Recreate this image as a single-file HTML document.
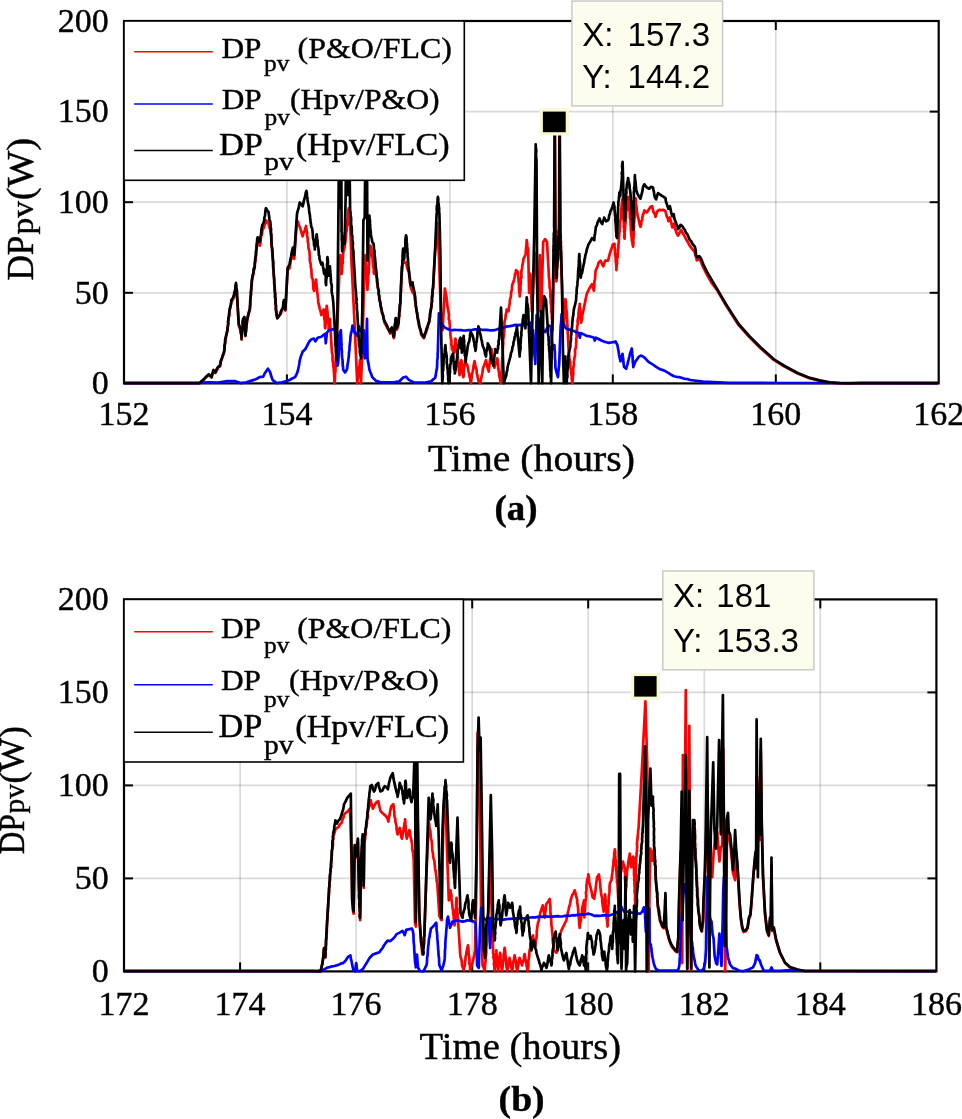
<!DOCTYPE html>
<html lang="en"><head><meta charset="utf-8"><title>DPpv comparison</title>
<style>html,body{margin:0;padding:0;background:#fff}body{width:962px;height:1119px;overflow:hidden}svg{display:block;will-change:transform;opacity:0.999}</style>
</head><body>
<svg width="962" height="1119" viewBox="0 0 962 1119">
<rect width="962" height="1119" fill="#fff"/>
<line x1="286.9" y1="21.0" x2="286.9" y2="383.4" stroke="#000" stroke-opacity="0.15" stroke-width="1.7"/>
<line x1="449.9" y1="21.0" x2="449.9" y2="383.4" stroke="#000" stroke-opacity="0.15" stroke-width="1.7"/>
<line x1="612.8" y1="21.0" x2="612.8" y2="383.4" stroke="#000" stroke-opacity="0.15" stroke-width="1.7"/>
<line x1="775.8" y1="21.0" x2="775.8" y2="383.4" stroke="#000" stroke-opacity="0.15" stroke-width="1.7"/>
<line x1="124.0" y1="292.8" x2="938.7" y2="292.8" stroke="#000" stroke-opacity="0.15" stroke-width="1.7"/>
<line x1="124.0" y1="202.2" x2="938.7" y2="202.2" stroke="#000" stroke-opacity="0.15" stroke-width="1.7"/>
<line x1="124.0" y1="111.6" x2="938.7" y2="111.6" stroke="#000" stroke-opacity="0.15" stroke-width="1.7"/>
<rect x="124.0" y="21.0" width="814.7" height="362.4" fill="none" stroke="#000" stroke-width="2.2"/>
<line x1="286.9" y1="383.4" x2="286.9" y2="374.4" stroke="#000" stroke-width="2.0"/>
<line x1="286.9" y1="21.0" x2="286.9" y2="30.0" stroke="#000" stroke-width="2.0"/>
<line x1="449.9" y1="383.4" x2="449.9" y2="374.4" stroke="#000" stroke-width="2.0"/>
<line x1="449.9" y1="21.0" x2="449.9" y2="30.0" stroke="#000" stroke-width="2.0"/>
<line x1="612.8" y1="383.4" x2="612.8" y2="374.4" stroke="#000" stroke-width="2.0"/>
<line x1="612.8" y1="21.0" x2="612.8" y2="30.0" stroke="#000" stroke-width="2.0"/>
<line x1="775.8" y1="383.4" x2="775.8" y2="374.4" stroke="#000" stroke-width="2.0"/>
<line x1="775.8" y1="21.0" x2="775.8" y2="30.0" stroke="#000" stroke-width="2.0"/>
<line x1="124.0" y1="292.8" x2="133.0" y2="292.8" stroke="#000" stroke-width="2.0"/>
<line x1="938.7" y1="292.8" x2="929.7" y2="292.8" stroke="#000" stroke-width="2.0"/>
<line x1="124.0" y1="202.2" x2="133.0" y2="202.2" stroke="#000" stroke-width="2.0"/>
<line x1="938.7" y1="202.2" x2="929.7" y2="202.2" stroke="#000" stroke-width="2.0"/>
<line x1="124.0" y1="111.6" x2="133.0" y2="111.6" stroke="#000" stroke-width="2.0"/>
<line x1="938.7" y1="111.6" x2="929.7" y2="111.6" stroke="#000" stroke-width="2.0"/>
<clipPath id="ca"><rect x="122.8" y="19.8" width="817.1" height="365.0"/></clipPath>
<g clip-path="url(#ca)">
<polyline points="124.0,383.2 199.0,383.2 199.4,383.3 201.7,381.3 204.1,379.4 206.6,376.6 208.8,374.9 211.6,377.5 212.1,375.5 212.8,372.8 213.5,370.5 215.3,373.0 216.9,370.4 218.2,367.3 220.0,366.4 220.2,363.0 221.0,360.8 221.9,358.9 222.6,356.4 223.8,353.6 224.2,351.1 224.7,348.3 224.5,346.7 225.1,343.0 225.3,341.7 225.7,338.6 226.1,335.9 226.5,333.3 227.1,331.5 227.5,329.2 227.7,326.5 228.1,324.0 228.1,321.7 228.6,320.1 228.7,317.4 229.4,315.4 229.4,312.3 229.8,309.2 230.5,307.5 230.8,305.2 231.3,302.0 232.8,299.7 234.1,296.4 234.5,293.9 235.1,292.4 235.3,289.6 235.5,286.7 236.0,285.1 236.2,287.9 236.5,289.4 236.8,292.4 236.9,294.5 238.8,325.5 239.7,328.1 240.7,331.1 241.2,333.9 241.3,336.8 241.6,339.6 241.5,337.1 242.1,334.0 242.2,332.8 242.2,329.6 242.8,327.2 242.8,325.2 242.8,322.8 243.1,319.9 244.4,318.0 244.8,320.3 244.7,322.6 244.8,324.5 244.6,327.7 245.2,329.8 245.3,332.2 245.3,334.3 245.4,336.2 245.6,333.9 246.1,330.9 246.0,329.3 246.4,326.9 246.6,324.3 247.1,322.2 247.3,319.9 247.8,317.7 248.3,314.5 249.1,312.4 249.7,310.5 250.0,308.7 250.2,306.4 250.4,303.4 250.2,301.8 250.3,298.6 250.6,297.4 251.0,294.3 250.8,292.3 251.3,289.8 251.3,287.6 251.6,286.1 251.8,283.4 251.9,281.4 252.4,278.2 252.7,276.3 253.6,273.3 253.7,271.4 254.5,269.0 254.8,266.4 254.7,263.5 255.4,261.5 255.6,259.3 255.7,257.8 256.2,255.0 256.2,253.6 256.5,250.6 256.7,248.7 256.9,246.4 257.0,243.8 257.6,242.9 257.6,240.1 258.9,242.6 259.8,245.7 260.5,242.9 260.6,241.0 260.8,237.8 261.2,236.2 262.1,233.6 262.3,230.7 264.2,226.9 264.6,224.8 265.7,223.1 266.0,220.4 268.5,223.2 269.0,225.8 269.5,227.7 270.3,229.8 270.7,232.6 270.7,234.7 271.2,236.4 271.2,238.9 271.6,241.2 271.3,244.2 271.6,245.5 272.1,248.8 271.9,250.1 272.4,252.8 272.3,255.4 272.6,257.0 272.8,259.7 273.2,261.4 273.2,263.3 273.0,265.3 273.2,268.7 273.5,270.8 273.5,273.1 273.6,274.6 274.0,277.6 274.3,280.0 274.2,281.1 274.1,283.3 274.5,286.1 274.8,287.7 274.9,290.9 274.9,292.5 275.0,295.3 275.0,297.3 275.2,298.8 275.5,302.1 275.5,304.4 275.9,305.7 275.6,308.7 276.0,310.5 276.2,313.4 277.1,315.3 277.3,318.5 278.6,316.0 280.1,314.8 281.0,313.4 281.8,310.1 282.9,308.6 283.4,306.0 283.8,303.7 283.9,302.0 284.6,304.7 284.7,308.2 285.4,310.5 287.6,270.1 289.5,268.2 290.0,265.5 290.5,262.8 290.7,260.3 291.3,259.3 291.9,256.3 292.1,253.5 292.9,251.3 293.6,254.4 293.5,257.0 294.2,258.8 297.0,220.4 298.0,222.2 298.9,225.4 299.8,226.9 300.6,229.5 301.2,231.3 301.8,233.7 302.6,236.3 303.4,233.1 304.3,231.8 305.2,228.8 306.0,226.0 306.2,228.8 306.5,230.2 307.1,232.4 307.0,235.5 307.4,236.9 307.8,239.5 307.7,241.2 308.3,243.8 308.3,245.7 308.5,248.3 309.1,249.9 309.5,252.4 309.7,254.9 309.8,256.7 309.8,259.8 310.1,262.2 310.8,264.2 310.7,266.5 311.1,268.2 311.4,269.9 311.5,273.3 311.7,275.5 311.9,277.8 312.7,279.2 313.0,282.2 313.2,284.5 313.2,286.5 313.4,288.4 313.9,290.8 314.4,288.8 314.6,285.9 315.4,284.6 315.7,281.8 316.1,279.5 316.3,282.2 316.5,283.8 316.5,285.8 317.0,288.6 317.0,290.7 317.3,292.6 317.6,294.5 317.9,297.7 318.2,299.3 318.1,301.3 318.6,303.9 319.2,306.2 319.7,308.6 320.4,310.9 320.8,312.5 321.4,315.2 322.4,312.3 323.7,309.5 323.9,311.8 324.3,314.8 324.3,316.3 324.2,318.3 324.8,321.3 324.9,323.1 324.9,326.5 325.2,328.3 325.5,326.3 325.6,323.6 325.7,321.9 326.0,319.8 326.0,317.7 325.9,314.3 326.3,312.1 326.1,310.6 326.6,308.3 326.7,305.8 326.9,307.8 327.2,309.7 327.5,311.8 327.6,315.1 327.9,316.5 327.7,319.7 328.3,321.7 328.4,323.7 328.7,325.7 328.6,328.6 328.9,330.2 329.1,328.3 329.2,325.2 329.7,322.9 329.5,321.8 329.9,318.9 331.7,349.0 331.9,351.4 332.1,353.1 332.6,355.6 332.5,357.6 332.6,360.6 333.2,363.2 333.2,365.8 333.6,367.7 333.8,369.6 333.9,371.9 334.1,374.1 334.3,377.0 334.3,379.5 334.4,381.1 334.5,383.3 334.7,381.1 335.0,378.8 335.0,377.0 335.0,374.2 335.4,371.6 335.5,369.4 335.5,367.7 337.9,311.4 339.4,270.1 339.8,267.7 340.0,265.5 339.9,262.1 339.9,260.2 340.1,257.6 340.3,255.1 340.2,257.5 340.6,259.7 340.8,261.9 341.1,264.9 341.2,266.8 341.1,269.0 341.4,270.8 341.6,273.9 342.0,271.7 342.0,269.6 342.2,267.5 342.3,264.9 342.9,262.5 342.6,259.5 343.0,257.6 343.1,255.1 343.2,252.6 343.8,250.4 344.5,248.2 344.8,246.2 345.0,243.8 345.4,242.0 345.7,239.0 345.9,236.8 346.0,234.4 346.4,231.9 346.8,230.0 346.9,226.9 347.3,225.1 347.4,222.7 347.5,219.7 348.0,217.8 347.9,215.3 348.3,213.3 348.3,210.5 348.8,208.2 349.1,210.5 349.1,212.7 349.1,215.4 349.8,217.6 349.7,220.2 350.0,222.5 349.9,224.2 350.3,226.9 351.6,264.5 353.5,302.0 355.3,339.6 357.2,383.3 357.5,381.1 357.6,379.4 358.2,376.0 358.2,374.4 358.7,372.2 358.9,369.5 359.1,367.7 359.6,365.5 359.8,362.4 360.0,360.2 360.2,362.1 360.4,364.4 360.2,367.7 360.7,369.1 360.7,372.0 360.8,373.4 360.6,376.5 360.9,378.6 360.9,381.0 361.0,383.3 362.3,349.0 363.8,292.6 364.7,255.1 365.7,258.8 367.5,289.8 367.5,287.9 367.6,285.4 367.9,283.6 368.2,281.2 368.1,278.4 368.2,276.0 368.6,273.2 368.8,271.2 368.9,268.7 368.8,267.1 369.0,264.5 369.2,261.6 369.2,259.8 369.3,257.0 369.9,255.2 369.6,252.3 370.2,250.7 370.3,248.7 370.4,245.7 371.0,247.8 371.4,249.9 371.7,252.2 372.2,255.1 372.4,257.4 372.6,259.3 372.9,262.6 373.0,264.6 373.3,267.1 373.9,269.3 373.6,272.2 374.1,273.9 374.5,271.6 374.4,268.4 374.9,266.1 375.1,263.2 375.1,260.7 375.1,263.4 375.3,266.0 375.8,267.3 375.9,269.5 376.2,271.9 376.7,275.3 376.5,276.5 376.9,279.5 377.0,282.3 377.3,283.8 377.5,285.8 378.2,288.9 378.5,291.3 378.6,293.5 379.2,295.8 379.2,297.9 379.4,300.3 380.2,301.7 380.3,304.6 380.8,306.8 381.0,308.9 381.6,311.0 382.1,313.1 383.0,315.1 383.4,317.7 384.0,320.3 384.4,322.3 386.0,325.4 387.3,327.9 388.9,330.4 390.1,333.6 391.2,330.6 391.9,328.7 392.6,331.5 392.7,332.7 393.3,336.2 393.8,338.1 394.3,335.6 394.3,332.9 394.3,331.2 394.9,328.8 394.7,327.2 395.0,324.4 395.2,322.6 395.7,319.9 395.9,321.7 396.1,325.2 396.6,326.8 396.6,329.8 397.8,327.4 398.5,324.2 398.7,321.7 398.9,319.4 399.0,317.3 399.5,315.7 399.2,313.2 399.6,311.1 400.0,309.3 400.1,306.9 400.4,304.3 400.4,302.0 400.4,300.2 400.5,297.1 400.5,295.3 400.8,292.9 401.1,290.2 400.9,288.8 401.0,286.1 401.3,283.9 401.3,281.9 401.6,279.1 401.4,277.2 401.9,274.6 401.7,272.9 402.1,270.7 402.3,269.1 402.5,266.7 402.6,264.6 402.7,261.3 403.1,259.7 403.1,257.7 403.2,255.1 403.4,257.9 403.9,260.7 404.2,262.6 406.0,262.6 406.7,265.3 407.3,268.2 408.8,272.0 409.2,275.2 409.3,276.5 409.8,279.8 409.9,282.6 410.5,284.4 410.7,287.0 411.4,289.2 412.6,292.6 414.5,294.5 414.6,296.9 414.9,298.5 415.3,301.5 415.3,303.0 415.9,306.4 416.3,307.7 416.4,310.5 416.7,312.1 417.3,315.5 417.8,317.0 418.2,319.7 418.3,322.4 418.8,324.4 419.2,326.4 420.0,329.4 420.8,331.4 421.1,334.2 422.0,335.8 423.9,338.3 424.9,335.2 425.7,333.0 426.7,330.6 427.6,327.4 428.2,324.8 429.0,322.9 429.5,319.9 429.5,317.8 430.1,316.0 430.3,312.8 430.5,311.4 430.9,308.4 431.4,306.7 431.7,305.0 431.8,302.8 432.0,299.9 432.2,297.6 432.7,295.7 432.7,292.8 432.7,290.4 433.1,288.4 433.2,286.1 435.1,251.3 435.5,249.1 435.5,246.2 435.7,245.0 435.7,242.0 436.2,239.5 436.2,237.8 436.5,235.5 436.3,233.0 436.7,230.2 436.8,227.7 436.8,225.5 437.0,223.2 438.9,255.1 440.8,311.4 440.8,313.7 441.2,315.9 441.3,317.8 441.9,320.5 441.8,323.3 442.0,326.2 442.5,327.9 442.6,330.2 444.9,288.5 445.3,291.4 445.9,294.1 446.4,296.4 446.7,299.2 447.1,302.1 447.1,303.3 447.5,307.1 447.8,308.2 448.3,311.4 448.8,313.7 448.9,316.0 448.7,318.9 449.5,320.9 449.5,323.2 449.9,325.3 449.7,328.5 450.1,330.2 450.3,332.6 450.4,335.1 450.7,336.9 451.2,339.5 451.5,342.4 451.3,344.5 451.9,346.4 452.0,349.0 453.9,352.7 454.2,350.1 454.2,348.6 454.4,346.2 455.1,343.2 455.2,340.6 455.4,338.6 455.9,340.7 455.8,343.7 456.4,345.2 456.2,347.4 456.6,349.9 456.6,351.7 457.2,354.6 457.7,356.7 457.7,358.3 457.9,360.4 458.3,363.1 458.3,366.1 458.8,367.7 458.8,370.3 459.3,372.4 459.5,375.2 460.1,372.9 460.2,370.3 460.4,367.2 460.9,364.9 460.9,362.4 461.4,360.2 461.7,362.4 462.0,364.8 462.4,367.0 462.5,370.1 462.6,371.7 463.1,375.0 463.3,377.1 463.8,375.1 463.8,372.0 463.9,369.6 464.2,367.0 464.6,364.5 464.9,362.9 465.2,360.2 465.9,363.0 467.1,364.8 468.0,367.7 468.3,370.5 468.5,371.5 469.2,374.1 469.4,376.0 470.3,379.1 470.4,381.1 470.8,383.3 471.2,380.9 471.6,378.4 471.7,376.2 472.1,373.6 472.7,371.5 473.3,368.5 473.4,366.6 474.2,363.1 474.5,361.2 474.9,362.9 475.2,365.5 475.8,367.5 476.7,370.4 476.7,373.1 477.4,375.2 477.8,378.3 478.4,380.9 480.3,383.3 480.7,381.1 481.0,378.9 481.4,377.3 482.0,374.8 482.4,372.7 482.7,370.5 483.1,367.7 484.1,365.5 485.1,362.8 486.0,360.2 486.5,362.5 487.2,365.3 487.4,367.0 488.0,369.2 488.8,371.5 489.0,368.8 489.2,367.0 489.6,364.4 489.8,362.4 490.1,359.7 490.5,358.2 490.9,355.8 491.1,353.8 491.2,350.5 491.6,349.0 491.7,351.6 492.1,354.2 492.5,356.5 493.2,358.8 493.6,360.5 493.9,362.6 494.0,365.2 494.4,367.7 495.2,364.8 495.9,362.7 496.6,361.1 497.2,358.3 497.7,360.1 497.8,363.8 498.1,365.4 498.3,368.5 498.6,370.8 499.1,372.7 499.1,375.2 499.8,377.8 500.3,380.6 501.0,383.3 502.9,349.0 503.0,346.0 503.3,343.6 503.1,341.2 503.3,339.0 503.6,337.2 504.1,334.6 504.0,333.1 504.3,330.6 504.4,327.5 504.5,325.1 504.4,322.9 504.7,320.8 505.3,318.9 505.7,316.0 505.9,313.8 506.4,312.5 506.6,309.5 508.5,311.4 508.8,308.6 509.0,306.9 509.4,305.3 509.8,302.9 509.8,300.5 510.4,298.3 510.9,296.3 511.1,293.4 511.2,291.7 511.9,289.8 512.1,286.6 512.2,285.1 513.4,282.1 514.1,279.5 514.7,276.7 515.0,274.2 515.6,273.1 516.0,270.1 517.9,272.0 518.0,274.6 518.2,276.4 518.5,279.0 518.5,280.4 518.8,283.1 519.1,285.9 519.0,287.0 519.0,289.2 519.2,291.4 519.7,294.5 519.7,296.4 519.8,294.4 520.4,291.1 520.5,289.7 520.4,286.2 520.7,284.6 520.8,282.6 520.7,279.5 521.4,277.7 521.4,275.5 521.3,272.3 521.6,270.1 522.2,268.2 522.2,266.2 522.8,263.5 523.3,261.0 523.5,258.8 525.4,255.1 525.7,253.2 525.9,250.4 526.1,247.8 526.4,244.7 526.6,242.0 526.7,240.1 527.0,242.2 527.3,244.8 527.4,247.5 528.1,248.4 528.2,251.3 529.1,292.6 529.2,290.0 529.5,287.8 529.7,286.3 529.8,283.0 530.0,280.8 529.9,278.4 530.2,276.1 530.4,273.9 531.9,311.4 533.8,273.9 534.2,271.1 534.0,269.1 534.6,267.1 534.7,265.1 534.8,262.7 534.9,259.6 535.2,257.6 535.3,255.5 535.7,253.2 537.2,292.6 537.2,294.5 537.7,296.9 537.5,299.7 538.1,301.9 538.1,304.5 538.0,306.6 538.1,309.2 538.5,311.4 539.8,255.1 541.3,311.4 543.2,241.9 545.1,239.1 547.0,241.9 548.8,273.9 548.8,276.6 549.1,278.9 549.4,281.2 549.5,282.7 549.5,285.0 549.7,287.8 550.2,290.5 550.3,292.4 550.4,294.6 550.4,297.1 550.7,299.1 550.7,302.0 550.9,304.0 551.2,306.4 551.3,309.2 551.2,311.8 551.7,313.1 551.8,315.8 551.9,319.1 552.2,320.2 552.0,323.3 552.3,325.1 552.7,327.3 552.6,330.2 554.3,236.3 554.9,123.7 555.6,240.1 556.4,281.4 556.7,279.3 556.9,276.4 557.0,273.7 556.8,271.5 557.0,268.9 557.3,267.4 557.6,264.6 557.8,261.9 558.1,260.1 558.3,257.5 558.2,255.1 558.5,253.2 558.4,250.0 558.9,247.0 558.9,244.6 558.8,242.5 559.2,240.1 559.8,123.7 560.7,236.3 561.6,273.9 562.9,311.4 563.3,313.5 563.5,316.5 563.2,319.5 563.3,321.7 563.7,323.8 563.9,326.4 564.0,324.8 564.1,321.5 564.1,319.6 564.6,317.2 564.6,315.8 564.8,312.2 564.9,310.5 564.7,307.8 564.9,306.6 565.1,303.1 565.4,302.2 565.4,299.2 565.9,301.5 566.1,304.5 566.1,306.7 566.4,309.5 566.7,311.4 568.6,349.0 568.8,351.9 569.0,354.2 569.3,355.9 569.3,358.1 569.9,360.8 570.2,362.7 570.4,365.8 570.4,367.7 571.0,369.8 571.0,372.6 571.3,373.9 571.7,375.9 571.7,378.6 572.0,381.1 572.3,383.3 572.5,381.0 572.8,378.8 572.9,376.5 573.3,374.3 573.2,371.7 573.2,369.9 573.5,366.7 574.0,364.4 573.8,362.0 574.2,360.2 574.5,357.5 575.0,355.8 575.1,353.5 575.0,349.9 575.7,348.3 576.1,345.4 576.1,343.3 576.3,341.2 576.2,339.0 576.8,336.2 576.5,334.1 577.0,331.9 576.9,329.7 577.2,327.5 577.3,325.9 577.9,323.9 577.5,321.6 577.9,318.9 578.5,316.2 578.4,314.4 578.8,311.3 578.9,309.2 579.6,306.1 579.8,303.9 579.7,306.8 580.2,308.7 580.3,311.5 580.3,313.9 580.4,315.1 580.6,318.1 580.8,320.0 581.1,322.7 581.8,319.9 582.2,318.1 582.2,316.4 582.5,314.5 582.9,312.4 583.6,309.5 584.1,306.8 584.7,304.1 585.2,301.9 585.4,300.1 586.1,297.0 586.6,294.7 587.3,292.6 588.7,289.8 590.1,287.0 592.0,284.2 592.7,286.2 593.1,288.1 593.9,290.8 594.0,288.7 594.3,286.8 594.3,283.8 594.5,280.9 595.0,279.5 595.1,277.6 595.3,275.0 595.5,271.8 595.8,270.1 596.9,267.9 597.8,265.7 598.6,262.6 600.5,260.7 601.9,263.6 603.3,266.4 604.2,263.5 605.2,260.7 608.0,260.7 608.6,258.5 609.2,256.2 609.9,253.2 610.7,251.1 611.3,249.2 612.1,247.0 612.7,244.8 614.5,243.8 614.6,246.4 614.9,248.3 615.0,250.4 615.1,253.9 615.5,255.7 615.7,258.8 615.7,260.7 616.0,262.9 616.2,265.1 616.4,267.0 616.4,270.1 616.5,268.2 616.7,264.9 617.1,263.5 617.0,261.6 617.1,258.3 617.6,257.3 617.8,253.8 618.0,252.7 618.1,249.8 618.5,247.1 618.3,245.4 618.7,243.1 618.8,240.5 619.0,237.7 619.2,235.6 619.2,233.8 619.8,230.4 619.8,228.7 620.0,226.1 620.0,224.0 620.2,221.3 620.8,218.6 620.9,217.1 621.0,213.7 621.1,211.8 621.0,210.0 621.5,207.4 621.8,204.3 622.1,202.1 622.5,198.7 622.6,200.8 622.6,203.5 622.7,205.8 622.9,207.4 623.1,209.9 623.5,212.8 623.6,215.5 623.4,218.2 623.7,219.9 623.7,222.1 623.9,224.0 623.8,226.9 624.4,229.8 624.0,231.0 624.5,233.3 624.2,236.8 624.6,238.6 624.7,235.6 624.6,233.7 624.8,231.0 625.0,228.9 625.1,227.1 625.3,224.3 625.6,222.4 625.6,220.4 626.0,217.5 626.1,214.7 626.2,211.7 626.8,210.1 626.8,207.4 626.9,204.4 627.2,202.7 628.0,199.9 628.1,196.8 628.6,199.0 628.4,201.6 628.9,204.5 629.3,207.4 629.5,210.0 629.8,212.8 629.8,214.4 629.9,217.7 630.5,220.5 630.6,222.4 630.6,224.5 630.9,227.0 630.8,229.5 631.1,232.0 631.4,234.7 631.7,237.9 631.8,239.9 632.4,242.3 632.6,244.3 633.1,246.7 633.3,244.1 633.5,242.8 633.2,240.2 633.6,237.2 633.6,236.1 633.9,233.9 633.7,231.4 633.8,228.8 634.0,226.5 633.9,223.7 634.2,221.7 634.3,219.9 634.6,218.0 634.6,214.6 634.5,212.8 634.9,209.6 635.1,207.4 635.3,204.9 635.2,202.6 635.6,200.6 635.5,198.1 636.0,201.3 635.8,203.6 636.3,205.5 636.7,209.2 636.8,211.2 637.2,212.9 637.7,216.2 638.4,218.2 638.7,219.9 639.4,222.6 639.8,224.7 640.5,226.8 641.3,223.9 641.3,221.4 642.2,219.9 642.4,217.4 642.9,214.7 643.6,213.3 644.3,210.5 646.8,212.4 648.6,209.9 650.5,206.8 652.1,206.2 652.8,209.2 653.6,212.4 654.8,214.0 655.5,216.8 656.2,214.2 657.4,211.2 659.2,209.9 661.7,210.2 663.6,209.9 665.5,211.2 665.9,213.1 666.7,216.2 667.8,218.5 668.4,221.1 669.9,217.4 670.3,219.4 671.1,222.4 671.7,224.6 672.3,227.4 673.8,223.6 674.7,227.3 675.5,229.9 676.7,233.2 678.0,235.5 679.8,232.4 681.1,229.9 682.9,233.6 684.4,235.7 685.4,238.0 686.7,240.3 687.9,242.3 689.1,244.5 690.4,246.7 692.9,249.8 694.8,252.3 695.2,254.9 696.2,257.3 696.7,260.4 698.5,259.2 700.4,260.4 702.9,266.7 706.6,274.2 711.6,282.9 717.0,290.0 726.4,306.1 738.5,324.9 749.2,336.9 760.0,347.7 773.4,359.7 784.1,366.4 797.7,373.5 809.4,378.2 819.3,380.7 829.3,382.7 839.3,383.5 849.3,383.7 860.0,383.2 938.0,383.2" fill="none" stroke="#ff0000" stroke-width="2.7" stroke-linejoin="round" stroke-linecap="butt"/>
<polyline points="124.0,383.2 199.0,383.2 201.3,382.7 208.8,382.4 218.2,382.7 227.5,381.2 235.1,381.2 240.7,383.1 246.3,382.4 253.8,379.9 256.8,378.8 259.5,377.1 263.2,376.7 264.5,373.8 266.0,371.5 267.9,368.7 269.8,371.5 270.6,373.8 271.1,375.8 271.9,377.9 272.6,379.9 276.4,383.1 282.0,382.4 287.6,380.9 290.0,379.7 292.6,378.3 295.1,377.1 297.0,373.4 297.8,371.0 298.3,368.7 298.9,365.8 299.3,363.5 299.7,360.8 300.2,358.8 300.8,356.5 301.8,354.0 302.6,351.8 305.4,349.0 306.9,346.2 308.3,343.3 309.5,341.3 311.1,339.6 313.9,338.6 315.4,341.4 317.7,337.7 321.4,336.7 323.2,335.2 325.2,333.9 325.4,336.3 325.4,338.7 325.7,341.2 325.7,343.3 326.1,340.9 326.3,338.3 326.6,335.5 326.7,333.0 328.9,330.2 332.7,329.2 336.0,330.2 336.3,333.3 336.8,335.8 337.5,365.8 338.0,363.2 338.4,360.2 338.5,357.8 338.7,355.4 338.8,353.0 338.9,350.6 338.9,348.5 339.1,345.9 339.0,343.6 339.1,340.9 339.1,338.9 339.2,336.6 339.4,333.9 340.9,330.2 340.9,332.8 341.1,335.2 341.2,337.2 341.3,339.7 341.3,341.8 341.6,344.3 341.4,346.7 341.6,349.0 341.9,351.5 341.9,353.8 342.0,356.0 342.2,358.2 342.6,360.2 342.6,362.4 342.7,365.3 343.1,367.1 343.1,369.6 345.0,372.4 346.9,369.6 347.3,367.4 347.5,364.9 347.9,362.8 348.3,360.5 348.5,358.3 348.8,356.5 348.9,353.8 349.1,352.1 349.5,349.4 349.5,347.2 349.7,345.3 350.0,342.4 350.3,340.5 350.4,337.8 350.6,335.8 351.1,332.9 351.7,330.8 352.1,328.3 352.5,325.5 353.2,327.9 353.7,329.8 354.4,332.1 355.8,334.0 357.2,335.8 357.7,333.2 358.1,331.4 358.6,328.8 359.1,326.4 360.0,330.2 361.9,332.1 361.9,334.4 362.1,337.0 362.2,339.0 362.3,340.9 362.3,343.3 362.4,345.5 362.7,347.8 362.9,350.4 362.9,352.7 363.1,350.8 363.0,348.0 363.2,345.8 363.3,343.8 363.3,341.6 363.4,339.1 363.4,336.6 363.5,334.6 363.6,332.6 363.8,330.2 363.8,332.2 363.9,334.7 364.0,337.2 364.1,339.4 364.3,341.7 364.3,344.6 364.3,346.6 364.3,349.0 364.5,351.2 364.5,353.4 364.6,356.2 364.7,358.3 365.5,355.5 366.0,352.7 367.0,318.9 367.5,358.3 367.9,360.7 368.3,363.2 368.7,364.8 369.0,367.1 369.4,369.6 370.4,372.3 371.3,374.3 372.2,377.1 374.1,378.9 376.0,380.9 380.7,382.4 393.8,382.4 399.5,381.2 401.4,379.2 403.2,377.5 406.0,376.7 408.8,379.9 414.5,382.7 423.9,382.7 431.4,381.2 433.2,379.3 435.1,378.0 435.7,375.4 436.1,372.6 436.6,370.1 437.0,367.7 437.1,365.3 437.2,363.2 437.2,360.4 437.6,358.0 437.7,356.1 437.6,353.8 437.9,351.4 437.9,349.0 438.9,313.3 439.3,315.8 439.8,317.9 440.2,320.5 440.8,322.7 442.6,325.0 444.5,327.4 447.4,328.9 450.1,329.8 452.5,330.2 454.6,329.8 456.8,330.0 459.2,330.1 461.4,330.2 463.8,330.5 466.0,330.4 468.6,330.1 470.8,330.2 473.0,329.7 475.1,329.4 477.4,329.4 479.4,329.2 481.9,329.8 484.0,329.8 486.4,329.8 488.8,330.2 491.6,330.3 494.4,330.2 496.6,329.5 498.8,328.7 501.0,328.3 503.2,328.0 505.4,326.8 507.5,326.4 510.0,326.1 512.5,325.7 515.1,324.9 517.8,325.1 520.7,324.9 523.6,325.1 526.3,324.5 530.1,322.7 530.2,325.0 530.3,327.1 530.7,329.5 530.8,331.5 531.0,333.9 532.9,330.2 533.0,332.5 533.2,335.0 533.2,337.4 533.3,339.9 533.5,342.1 533.7,344.4 533.7,346.4 533.8,349.0 534.1,351.4 534.4,354.3 534.6,356.1 534.9,359.1 535.2,361.6 535.3,364.0 536.6,315.2 538.5,318.9 538.9,320.9 539.0,323.7 539.3,326.1 539.4,327.8 539.5,330.6 539.8,332.9 540.1,334.8 540.2,337.0 540.4,339.6 540.4,337.3 540.6,335.2 540.8,332.7 540.6,330.4 540.9,328.5 541.0,326.4 541.0,324.0 541.0,321.7 541.0,319.6 541.3,317.1 541.3,315.2 541.7,317.4 541.9,320.4 542.4,322.8 542.5,325.4 542.9,327.4 543.2,330.2 545.1,332.1 546.3,329.8 547.6,327.3 548.8,325.5 550.7,326.4 550.9,329.0 551.1,331.0 551.4,333.1 551.5,335.3 551.7,337.7 551.7,340.2 552.0,342.4 552.3,344.5 552.4,346.8 552.6,349.0 554.5,345.2 554.5,347.7 554.6,349.8 554.9,352.0 554.9,354.4 554.9,356.3 555.0,358.7 555.3,360.8 555.3,362.9 555.3,365.4 555.4,367.7 555.9,369.9 556.5,372.4 557.2,374.7 557.9,377.1 558.2,375.2 558.3,372.7 558.5,370.8 558.7,368.1 559.0,365.9 559.2,364.0 560.5,330.2 560.6,327.8 560.7,325.8 561.0,323.6 561.2,321.0 561.4,318.7 561.4,316.8 561.6,314.2 562.2,317.2 562.6,320.0 562.9,322.7 564.5,325.7 565.7,328.3 568.7,329.4 571.4,330.2 573.9,331.0 576.3,332.2 578.9,333.0 579.3,335.3 579.8,337.7 580.2,335.7 580.8,333.0 583.7,334.4 586.4,335.8 589.0,336.2 591.3,336.8 593.9,337.7 594.8,340.5 595.8,337.7 598.6,339.0 601.4,340.5 604.0,341.6 606.4,342.3 608.9,342.9 611.0,342.5 613.3,342.2 615.5,341.4 617.4,345.2 617.8,347.2 618.2,349.5 618.6,351.6 619.0,354.5 619.4,356.4 619.9,358.8 620.4,361.3 621.1,358.7 621.7,356.1 622.5,353.8 622.8,356.5 623.2,358.9 623.3,361.2 623.7,364.4 624.0,366.7 626.2,368.8 626.6,366.9 627.4,364.6 627.9,362.4 628.5,360.1 628.9,358.2 629.5,356.3 630.0,353.8 630.9,351.1 631.8,348.5 632.0,350.7 632.2,353.2 632.5,355.5 632.6,358.1 632.7,360.1 632.8,362.5 633.2,364.5 633.3,367.1 634.4,364.0 635.4,361.3 637.1,359.3 638.6,357.0 640.8,355.5 642.9,356.5 645.1,358.1 647.1,360.5 649.3,362.4 651.4,363.6 653.5,365.0 655.8,366.7 657.8,367.9 660.1,369.2 662.2,369.9 664.5,370.7 666.5,371.9 668.7,373.1 671.2,374.8 674.0,376.3 676.4,376.8 679.1,377.1 681.5,377.8 683.7,378.6 685.9,379.0 688.0,379.2 690.1,380.0 703.0,381.7 728.7,382.8 780.0,383.0 938.0,383.2" fill="none" stroke="#0000ff" stroke-width="2.7" stroke-linejoin="round" stroke-linecap="butt"/>
<polyline points="124.0,383.2 199.0,383.2 199.4,383.3 201.7,381.1 204.1,379.0 205.7,377.1 207.3,375.7 208.8,374.3 211.6,377.1 212.0,374.9 213.0,371.7 213.5,370.0 215.3,372.4 216.6,369.3 218.2,366.8 220.0,365.8 220.5,363.7 221.0,360.2 221.9,358.2 222.7,355.4 223.8,352.7 224.3,350.4 224.6,347.7 224.5,345.4 225.1,343.1 225.1,339.9 225.7,337.7 226.1,335.9 226.8,333.3 227.3,330.9 227.5,328.3 228.0,325.7 228.3,323.4 228.1,321.6 228.5,318.1 228.8,316.9 229.0,314.0 229.4,311.4 229.7,309.2 230.2,306.7 230.8,304.8 231.2,302.7 231.3,300.1 233.0,297.8 234.1,294.5 234.3,292.4 235.1,290.4 235.3,288.1 235.5,285.5 236.0,282.9 236.3,285.8 236.2,287.5 237.0,290.7 236.9,292.6 238.8,324.5 239.9,326.8 240.7,330.2 240.8,332.9 241.5,335.5 241.6,338.6 241.6,336.7 241.7,333.9 242.1,331.5 242.6,329.3 242.8,326.3 242.5,323.6 242.7,321.5 243.1,318.9 244.4,317.0 244.5,318.9 244.5,321.8 245.0,323.3 245.2,326.0 245.0,329.1 245.2,330.8 245.3,333.3 245.4,335.4 245.7,333.2 245.9,331.3 246.3,328.3 246.3,325.6 246.7,324.3 246.7,321.3 247.3,318.9 247.9,316.4 248.5,313.5 248.8,312.1 249.7,309.5 251.9,279.5 252.4,277.2 252.8,274.7 253.5,272.3 253.6,268.8 254.6,267.2 254.8,264.5 255.0,261.9 255.1,260.1 255.4,257.5 255.8,255.2 255.9,252.9 255.9,251.2 256.5,248.7 256.5,246.1 256.7,244.5 257.1,241.4 257.1,239.8 257.6,237.3 258.6,239.4 259.8,241.9 260.1,240.0 260.3,237.6 261.0,234.5 261.2,232.8 261.4,229.5 261.8,227.5 262.3,225.1 263.4,223.1 264.2,220.4 264.4,217.5 265.0,215.9 265.2,213.5 265.5,210.1 266.0,208.2 267.1,210.4 268.5,211.9 268.8,214.2 269.2,216.8 269.4,220.0 270.2,221.2 270.6,225.0 270.7,226.9 271.1,229.2 270.9,232.2 271.4,234.3 271.4,236.5 271.4,238.4 271.4,240.6 271.7,243.5 271.7,246.1 272.2,248.6 272.5,251.0 272.5,253.3 272.6,255.1 274.5,285.1 274.7,286.7 274.6,289.1 274.9,292.0 275.3,293.9 275.1,296.4 275.5,298.1 275.6,300.6 275.4,302.7 275.9,305.1 276.0,306.9 276.0,309.5 276.6,312.9 276.6,315.6 277.3,318.0 278.9,316.3 280.1,314.2 280.9,311.4 282.0,309.5 282.9,307.7 283.2,305.0 283.3,303.0 283.9,300.1 284.0,301.9 284.4,304.3 285.2,307.8 285.4,309.5 287.6,268.2 289.5,264.5 290.0,261.5 290.4,259.4 291.0,257.0 291.3,254.9 291.8,252.0 292.4,249.5 292.9,247.6 293.2,250.4 293.6,252.0 294.2,255.1 297.0,213.8 297.6,211.4 298.1,209.7 298.8,207.5 299.2,204.7 299.8,202.5 301.3,204.4 302.6,206.3 303.4,203.7 303.7,201.2 304.5,198.8 305.2,196.2 305.7,192.9 306.4,190.9 306.9,193.1 306.9,196.2 307.5,198.4 307.6,199.9 307.9,202.5 308.4,204.5 308.9,207.8 309.1,210.4 309.4,212.9 309.8,214.5 310.1,217.5 310.3,219.1 310.6,222.4 310.9,223.6 311.3,227.0 312.0,228.0 312.4,230.3 312.7,233.3 312.9,235.9 313.0,237.9 313.6,240.1 313.9,241.9 314.0,244.8 314.8,247.3 314.8,249.5 315.1,246.3 315.6,244.5 315.6,241.6 316.2,239.1 316.3,237.3 316.7,234.4 316.9,236.5 317.2,238.7 317.5,240.5 317.7,244.0 317.8,245.9 318.4,248.0 318.5,250.2 318.8,252.2 318.8,255.0 319.4,256.1 319.5,258.8 320.5,262.2 321.4,264.5 322.3,262.6 322.8,264.8 323.0,266.7 323.5,268.9 323.7,271.3 324.2,273.9 325.2,270.1 325.6,272.9 325.6,274.8 325.8,277.5 325.7,280.2 325.7,282.2 326.1,285.1 326.1,282.7 326.2,280.0 326.6,277.8 326.8,275.2 326.7,273.4 326.9,271.0 326.9,269.1 327.1,266.3 327.0,264.5 327.5,262.0 327.2,259.3 327.4,257.0 327.7,258.9 328.0,261.9 327.8,264.5 328.0,265.9 328.5,268.3 328.8,271.5 328.9,273.0 328.9,275.7 329.1,273.1 329.2,271.4 329.8,268.1 329.9,266.4 330.0,268.3 330.3,271.0 330.3,272.4 330.6,275.3 330.8,277.2 330.9,280.5 331.0,282.2 331.4,284.1 331.8,286.1 331.7,288.9 331.7,291.8 332.1,294.2 332.6,296.3 332.8,298.0 333.1,300.8 333.3,302.6 333.5,306.0 333.6,307.7 335.5,341.4 335.4,343.8 335.6,346.1 335.9,348.8 335.8,350.9 336.1,353.4 336.4,355.1 336.1,358.1 336.4,360.2 337.4,311.4 338.4,217.5 339.0,151.8 339.6,198.8 340.1,157.5 340.7,208.2 341.3,165.0 341.6,228.8 341.5,231.7 341.9,233.1 341.8,235.7 341.8,238.0 341.7,239.8 342.1,241.7 342.1,244.9 342.0,247.2 342.1,248.8 342.2,251.3 342.2,249.4 342.5,246.3 342.8,244.2 343.0,241.1 343.4,238.9 343.5,236.3 344.1,238.6 344.1,240.8 344.6,243.8 345.6,198.8 346.1,142.5 346.7,189.4 347.3,151.8 347.8,195.0 348.4,138.7 349.0,191.3 349.5,161.2 350.1,208.2 350.1,209.9 350.6,213.2 350.5,214.8 351.0,217.4 351.2,220.3 351.0,222.4 351.2,224.4 351.6,226.9 351.8,229.3 351.8,231.2 351.8,234.4 352.4,236.7 352.3,239.3 352.6,241.1 353.0,243.5 352.7,246.0 353.0,248.6 353.3,250.5 353.5,252.0 353.5,255.1 355.3,285.1 355.5,287.7 355.7,289.9 355.9,291.9 356.0,294.0 356.2,297.3 356.6,299.6 356.3,302.4 356.8,304.6 356.8,306.0 356.8,308.6 357.2,311.4 359.1,345.2 359.7,347.4 359.9,349.3 359.8,352.0 360.4,354.5 360.8,356.7 361.0,358.3 362.3,311.4 363.4,220.4 364.7,217.5 365.3,157.5 365.9,198.8 366.4,161.2 367.0,161.2 367.5,260.7 369.4,215.7 369.5,218.3 370.0,220.8 369.9,223.2 370.2,225.4 370.1,226.9 370.4,229.2 370.7,231.6 370.9,234.4 371.4,237.2 371.9,239.3 372.2,241.9 373.6,243.8 373.8,246.1 374.0,249.2 374.5,250.9 374.5,254.1 374.8,256.2 375.1,258.8 375.1,261.3 375.4,262.8 375.6,266.3 375.8,268.2 376.0,270.2 376.3,272.8 376.5,274.6 376.9,277.6 377.2,279.5 377.2,281.7 377.7,284.6 377.8,287.3 378.3,289.2 378.9,291.0 378.7,293.6 379.2,296.4 379.4,298.5 379.9,300.9 380.2,302.4 380.7,305.5 381.2,307.7 381.6,309.5 382.1,312.4 382.6,313.7 383.4,316.7 383.6,318.3 384.4,320.8 386.1,323.9 387.3,326.4 388.4,329.4 390.1,332.1 390.8,329.1 391.9,327.4 392.2,329.2 393.0,331.4 393.2,335.0 393.8,336.7 394.0,335.1 394.5,332.5 394.3,330.3 394.8,327.1 394.8,325.6 395.4,322.4 395.4,319.8 395.7,318.0 396.0,320.3 396.0,323.7 396.5,326.1 396.6,328.3 397.6,326.0 398.5,322.7 398.6,321.0 398.7,318.0 399.1,316.3 399.1,313.3 399.5,311.7 399.6,309.4 399.6,306.9 399.8,304.9 400.4,302.3 400.4,300.1 401.7,270.1 401.7,268.0 402.2,264.9 402.4,263.1 402.3,261.0 402.7,258.7 402.6,255.5 402.8,252.7 402.8,251.6 403.2,248.5 403.2,251.2 403.8,253.1 403.7,255.9 404.2,258.8 404.4,256.0 404.3,254.3 405.0,251.4 404.9,249.1 405.2,247.0 405.4,244.9 405.3,242.5 405.4,239.6 405.6,238.2 406.0,235.4 406.5,237.0 406.6,239.5 406.6,241.6 407.0,244.1 407.0,246.9 407.4,249.4 407.3,251.3 407.6,253.5 407.5,256.0 408.0,258.8 407.9,261.2 408.3,263.1 408.2,265.7 408.6,267.5 408.8,270.1 409.2,272.0 409.4,275.4 409.8,277.8 410.0,279.7 410.3,283.3 410.7,285.1 412.6,282.3 412.8,284.8 413.3,287.1 414.1,290.7 414.5,292.6 415.0,295.6 415.3,297.6 415.2,299.9 415.8,302.9 415.8,305.3 416.0,307.5 416.4,309.5 417.0,312.5 417.4,313.8 417.3,315.9 417.8,319.0 418.4,321.0 418.9,322.6 419.2,325.5 419.8,327.5 420.7,330.0 421.2,332.9 422.0,334.9 423.9,337.3 424.7,334.1 425.7,332.1 426.4,329.1 427.6,326.4 428.4,323.4 429.1,321.7 429.5,318.9 430.0,317.4 429.9,314.4 430.4,312.1 430.8,310.2 431.3,307.8 431.4,305.8 431.6,303.2 432.0,301.7 431.9,298.6 431.9,297.0 432.4,293.8 432.4,292.1 432.7,289.1 433.0,287.8 433.2,285.1 435.1,249.5 436.6,213.8 437.0,212.0 436.7,209.6 436.9,206.1 437.3,204.0 437.6,201.1 437.6,198.7 437.9,196.9 438.3,199.0 438.2,201.6 438.5,203.5 438.9,206.7 439.2,209.5 439.0,211.0 439.4,213.8 440.4,255.1 441.1,330.2 442.3,383.3 442.4,381.0 442.7,379.0 442.8,376.4 442.7,374.1 442.6,371.3 443.3,369.7 443.2,367.7 443.5,365.1 443.5,363.0 443.6,360.2 443.9,357.6 444.0,354.7 444.8,353.0 444.8,350.3 445.1,347.5 445.4,345.2 445.6,348.1 445.7,350.8 446.1,352.4 446.5,355.1 446.8,358.2 446.8,360.2 446.7,362.7 447.2,364.9 447.2,367.1 447.7,369.7 447.8,371.2 447.9,373.9 448.3,376.9 448.1,378.9 448.5,381.0 448.6,383.3 448.9,381.1 448.9,379.4 449.5,376.5 449.4,374.1 450.0,372.8 449.9,369.7 450.1,367.7 450.2,365.2 451.0,362.9 450.9,360.4 451.1,358.3 451.6,356.5 453.0,353.6 453.3,355.9 453.4,358.5 453.3,360.7 454.1,362.1 453.9,364.0 454.1,366.8 454.2,369.0 454.9,370.8 454.8,373.4 455.4,370.7 455.7,368.5 455.9,367.0 455.8,364.1 456.2,362.8 456.7,360.2 457.2,357.3 457.1,355.7 457.7,353.4 457.7,350.0 458.6,347.5 458.6,345.2 459.0,342.4 459.6,339.7 460.5,337.7 460.9,340.0 460.7,342.1 461.4,345.8 461.2,348.4 461.8,350.0 461.8,352.7 462.2,350.3 462.0,347.6 462.7,345.2 462.9,343.4 463.1,340.6 463.4,338.1 463.7,335.8 463.7,338.7 464.2,340.7 464.0,343.5 464.5,346.0 464.4,347.3 464.4,349.7 464.8,353.2 464.8,355.4 465.4,356.6 465.6,360.1 465.5,362.1 465.9,359.9 466.0,357.6 466.5,354.9 467.0,351.9 467.3,349.8 467.5,347.4 468.0,345.2 468.5,342.8 469.2,341.5 469.6,339.1 470.1,336.1 470.1,333.9 470.8,332.1 472.7,335.8 473.3,338.3 473.7,340.6 474.3,343.0 474.5,345.8 475.2,348.4 475.5,350.8 475.8,349.1 476.1,345.9 476.2,343.0 476.7,341.7 477.0,338.1 477.4,336.2 477.4,333.9 477.6,331.2 478.3,329.0 478.4,326.4 479.3,328.8 479.6,331.7 480.3,333.9 480.8,336.0 481.2,338.5 481.9,341.2 482.2,343.3 482.9,346.3 484.1,349.0 484.6,351.1 485.1,354.1 486.0,356.5 486.2,353.7 486.3,351.8 487.1,349.9 487.3,347.7 487.7,346.0 487.8,343.3 489.7,347.1 490.0,349.8 490.1,351.7 490.6,354.2 491.2,355.8 491.1,357.7 491.6,360.2 492.6,363.5 493.5,365.8 493.5,362.9 493.7,360.8 494.1,359.1 494.5,355.9 494.8,353.8 495.2,351.5 495.3,349.0 497.2,352.7 497.3,350.4 498.0,349.0 498.1,345.6 498.7,344.3 498.5,341.1 499.1,339.6 501.0,307.7 502.3,339.6 503.8,383.3 504.7,380.2 505.7,377.1 506.3,375.3 506.6,372.2 507.3,370.2 507.5,367.7 508.1,364.8 508.9,362.1 509.4,360.2 510.2,357.3 510.6,355.7 511.0,352.9 511.9,351.2 512.2,349.0 512.6,346.8 513.3,345.2 513.5,342.4 514.3,339.9 514.6,337.5 515.1,335.8 515.4,333.6 516.2,331.5 516.6,329.3 516.9,326.4 519.7,356.5 519.7,353.7 520.0,351.6 520.5,348.9 520.6,346.5 520.4,345.1 520.7,342.7 520.8,339.3 521.1,336.7 521.5,334.8 521.2,333.0 521.6,330.2 521.9,327.5 522.1,324.7 522.7,322.3 522.7,319.9 523.2,317.3 523.5,315.2 523.7,317.4 524.0,319.8 524.5,322.0 524.9,323.5 525.1,326.0 525.4,328.3 526.7,297.3 527.0,299.8 526.9,301.9 527.6,304.8 527.7,306.7 528.2,308.7 528.2,311.4 529.7,349.0 531.0,383.3 532.9,292.6 534.2,236.3 535.7,144.3 535.7,147.0 536.2,149.6 536.3,151.4 536.0,154.0 536.1,156.7 536.4,159.1 536.5,161.2 537.0,255.1 537.8,330.2 538.7,383.3 541.0,311.4 542.3,383.3 543.2,311.4 543.4,308.4 543.5,306.9 543.9,304.0 543.8,301.3 544.2,299.0 544.2,296.4 546.0,300.1 547.9,330.2 547.8,332.1 548.2,335.2 548.6,336.9 548.6,340.1 548.9,342.6 548.7,344.6 549.1,345.9 549.1,349.3 549.4,351.3 549.6,353.3 549.6,356.1 549.8,358.3 549.9,360.1 550.1,362.6 550.1,364.7 550.2,367.0 550.2,369.8 550.5,371.3 550.6,373.8 550.5,376.0 551.1,378.8 551.0,381.0 551.1,383.3 552.6,311.4 553.5,255.1 553.6,253.3 553.4,250.3 553.6,247.7 553.5,246.3 553.8,244.0 553.7,240.9 553.7,239.3 553.9,236.4 553.8,233.5 554.2,232.3 554.3,229.6 554.1,226.9 554.7,122.0 555.2,226.9 555.8,258.8 556.0,260.6 555.8,263.9 556.3,265.8 556.3,268.0 556.4,270.1 556.4,272.6 556.7,275.1 556.5,277.6 556.7,275.5 556.8,273.1 556.8,270.8 557.1,268.0 557.0,265.4 557.4,262.7 557.5,260.7 557.7,258.0 557.9,256.0 557.9,254.2 557.6,251.2 558.1,249.1 557.9,247.2 558.4,243.8 558.2,241.9 558.3,239.8 558.3,237.3 558.7,234.5 558.5,232.1 558.9,228.9 559.0,226.9 559.5,122.0 560.1,226.9 560.0,229.7 560.0,230.7 560.3,234.0 560.7,235.7 560.4,238.2 560.3,240.5 560.8,242.2 560.5,244.2 560.8,246.9 560.7,249.8 561.0,251.3 562.0,285.1 562.9,349.0 563.9,383.3 564.0,381.1 564.0,379.3 564.2,377.0 564.3,374.6 564.5,371.7 564.5,370.3 564.7,367.3 564.8,364.8 565.0,363.3 565.0,361.1 565.0,358.0 565.4,356.5 565.3,358.5 565.5,361.0 565.7,363.5 565.9,365.6 565.9,367.7 565.8,369.6 566.1,372.5 566.5,373.8 566.4,376.7 566.2,378.7 566.6,381.1 566.7,383.3 566.8,381.1 566.8,379.6 567.4,376.5 567.3,373.9 567.3,372.2 567.5,370.6 567.7,367.2 567.9,364.9 568.2,363.9 568.2,360.6 568.3,358.7 568.3,356.5 568.6,354.6 569.1,351.7 569.8,349.3 570.2,346.9 570.4,345.2 570.4,342.5 570.8,341.0 571.0,338.8 570.9,336.4 571.4,334.2 571.3,332.3 571.8,328.8 571.9,327.8 572.2,325.2 572.3,322.7 572.6,320.0 572.7,317.8 573.4,314.9 573.5,312.3 573.8,309.8 574.2,307.7 574.9,305.4 575.4,303.3 576.1,300.1 576.2,297.5 576.3,295.0 576.7,293.5 576.6,290.8 576.8,288.3 577.1,286.6 577.4,284.9 577.5,281.9 577.9,279.2 577.9,277.6 578.0,275.6 578.1,273.2 578.2,270.2 578.5,267.8 578.7,266.1 578.9,263.0 578.8,261.2 579.0,258.8 579.1,256.1 579.3,254.2 579.5,256.7 579.4,259.4 579.9,261.7 580.1,263.8 580.2,265.4 579.9,268.8 580.6,270.7 580.7,272.6 580.6,275.8 580.8,277.6 581.2,274.6 582.0,273.1 582.6,270.1 583.1,267.3 583.4,265.7 584.3,261.9 584.4,259.8 584.9,258.3 585.4,255.1 586.4,251.9 586.7,249.6 587.4,248.0 588.3,244.8 590.1,241.9 592.0,238.2 594.3,240.1 594.4,238.4 594.6,235.4 595.1,233.6 595.3,231.2 595.7,228.8 595.8,226.9 596.9,225.2 597.7,222.2 599.5,218.5 600.7,221.7 602.3,224.1 602.8,221.6 603.9,219.3 604.2,217.5 606.1,221.3 608.0,220.4 608.8,218.7 609.0,216.1 609.9,213.8 610.4,211.4 611.2,209.9 612.4,206.7 613.1,204.4 613.6,202.5 614.0,204.8 614.5,207.0 614.5,209.9 614.9,212.8 615.0,214.7 615.5,217.5 615.3,220.0 615.6,222.8 615.7,224.1 615.9,226.4 616.0,229.3 616.1,231.4 616.5,234.0 616.4,236.3 617.1,238.0 618.1,207.4 618.4,204.8 618.3,202.4 618.9,199.5 618.9,197.4 619.3,195.0 619.3,192.5 620.3,196.2 620.4,193.7 620.4,191.4 620.9,189.4 621.1,187.0 621.4,184.7 621.5,182.5 621.8,179.7 621.9,177.4 622.0,175.2 621.7,173.0 622.3,171.1 622.4,169.2 622.1,167.1 622.2,164.0 622.6,161.9 623.5,194.9 623.6,197.6 623.9,199.9 624.0,202.6 624.0,204.8 624.3,206.0 624.0,208.3 624.3,211.7 624.3,213.8 624.8,215.5 624.8,217.5 624.9,220.5 624.9,218.8 625.3,216.2 625.4,213.7 625.0,211.5 625.4,208.5 625.3,207.2 625.4,204.4 625.6,202.4 625.9,199.6 626.0,196.8 625.9,194.9 626.4,192.9 626.2,189.7 626.8,187.0 626.8,185.0 627.2,182.6 627.8,180.4 628.1,178.1 628.6,180.7 629.3,183.7 629.7,186.3 629.6,187.9 630.2,191.1 630.3,192.8 630.6,194.9 630.7,197.9 630.7,199.2 631.2,201.7 631.5,204.0 631.4,206.7 631.7,209.1 631.8,211.2 632.0,213.7 632.1,215.9 632.1,218.6 632.3,220.9 632.3,223.3 632.7,225.2 632.7,227.8 633.1,229.9 633.9,194.9 633.8,192.4 634.2,190.6 634.1,187.6 634.6,185.7 634.5,183.8 634.7,181.3 634.8,179.9 634.8,176.5 634.9,175.0 634.9,177.5 635.2,180.4 635.6,182.2 635.8,185.1 636.0,188.0 636.2,190.0 637.4,193.7 638.7,196.0 640.5,198.7 641.1,196.3 641.7,193.8 642.4,191.2 642.8,188.2 643.4,186.2 644.3,184.3 646.8,187.5 649.3,188.7 651.1,186.8 653.0,187.5 653.5,190.4 654.0,192.1 654.3,194.9 654.9,197.3 656.1,199.3 656.9,196.5 658.0,193.1 659.9,194.3 661.7,195.6 663.6,196.8 665.5,198.1 665.9,201.6 666.7,203.7 667.4,205.9 668.4,208.7 669.9,206.2 670.7,209.8 671.1,212.4 672.3,216.2 673.8,214.3 674.1,217.2 674.8,219.9 675.9,222.3 676.7,224.9 677.6,226.4 678.0,229.2 679.4,227.5 680.5,224.9 682.3,226.1 683.6,228.3 684.8,229.9 685.9,232.7 687.3,234.2 688.4,236.8 689.8,239.9 691.2,241.3 692.3,243.6 694.8,246.7 695.4,248.8 695.8,252.0 696.0,254.8 697.3,257.3 699.2,256.1 701.0,258.6 703.5,264.8 707.3,272.3 712.3,281.0 717.5,289.6 726.9,305.7 739.0,324.5 749.7,336.5 760.5,347.3 773.9,359.3 784.6,366.0 798.2,373.2 809.9,377.9 819.8,380.4 829.8,382.4 839.8,383.2 849.8,383.4 860.0,383.2 938.0,383.2" fill="none" stroke="#000000" stroke-width="2.7" stroke-linejoin="round" stroke-linecap="butt"/>
</g>
<text x="124.0" y="425.2" font-family='"Liberation Serif", "DejaVu Serif", serif' font-size="34" font-weight="normal" text-anchor="middle" stroke="#000" stroke-width="0.4">152</text>
<text x="286.9" y="425.2" font-family='"Liberation Serif", "DejaVu Serif", serif' font-size="34" font-weight="normal" text-anchor="middle" stroke="#000" stroke-width="0.4">154</text>
<text x="449.9" y="425.2" font-family='"Liberation Serif", "DejaVu Serif", serif' font-size="34" font-weight="normal" text-anchor="middle" stroke="#000" stroke-width="0.4">156</text>
<text x="612.8" y="425.2" font-family='"Liberation Serif", "DejaVu Serif", serif' font-size="34" font-weight="normal" text-anchor="middle" stroke="#000" stroke-width="0.4">158</text>
<text x="775.8" y="425.2" font-family='"Liberation Serif", "DejaVu Serif", serif' font-size="34" font-weight="normal" text-anchor="middle" stroke="#000" stroke-width="0.4">160</text>
<text x="938.7" y="425.2" font-family='"Liberation Serif", "DejaVu Serif", serif' font-size="34" font-weight="normal" text-anchor="middle" stroke="#000" stroke-width="0.4">162</text>
<text x="108.8" y="394.2" font-family='"Liberation Serif", "DejaVu Serif", serif' font-size="34" font-weight="normal" text-anchor="end" stroke="#000" stroke-width="0.4">0</text>
<text x="108.8" y="303.6" font-family='"Liberation Serif", "DejaVu Serif", serif' font-size="34" font-weight="normal" text-anchor="end" stroke="#000" stroke-width="0.4">50</text>
<text x="108.8" y="213.0" font-family='"Liberation Serif", "DejaVu Serif", serif' font-size="34" font-weight="normal" text-anchor="end" stroke="#000" stroke-width="0.4">100</text>
<text x="108.8" y="122.4" font-family='"Liberation Serif", "DejaVu Serif", serif' font-size="34" font-weight="normal" text-anchor="end" stroke="#000" stroke-width="0.4">150</text>
<text x="108.8" y="31.8" font-family='"Liberation Serif", "DejaVu Serif", serif' font-size="34" font-weight="normal" text-anchor="end" stroke="#000" stroke-width="0.4">200</text>
<text x="428.0" y="471.3" font-family='"Liberation Serif", "DejaVu Serif", serif' font-size="37" font-weight="normal" text-anchor="start" textLength="207.0" lengthAdjust="spacingAndGlyphs" stroke="#000" stroke-width="0.4">Time (hours)</text>
<text x="494.5" y="519.5" font-family='"Liberation Serif", "DejaVu Serif", serif' font-size="35" font-weight="bold" text-anchor="start" textLength="43.0" lengthAdjust="spacingAndGlyphs" stroke="#000" stroke-width="0.4">(a)</text>
<g transform="translate(32.9,280.6) rotate(-90)"><text font-family='"Liberation Serif", "DejaVu Serif", serif' stroke="#000" stroke-width="0.4"><tspan x="0.0" y="0.0" font-size="38" textLength="45.0" lengthAdjust="spacingAndGlyphs">DP</tspan><tspan x="46.2" y="0.0" font-size="31" textLength="33.5" lengthAdjust="spacingAndGlyphs">pv</tspan><tspan x="80.4" y="0.0" font-size="38" textLength="62.3" lengthAdjust="spacingAndGlyphs">(W)</tspan></text></g>
<rect x="124.0" y="21.0" width="340.3" height="159.3" fill="#fff" stroke="#000" stroke-width="1.6"/>
<line x1="134.2" y1="51.7" x2="212.8" y2="51.7" stroke="#ff0000" stroke-width="1.5"/>
<text font-family='"Liberation Serif", "DejaVu Serif", serif' stroke="#000" stroke-width="0.4"><tspan x="221.4" y="58.0" font-size="30" textLength="40.0" lengthAdjust="spacingAndGlyphs">DP</tspan><tspan x="264.0" y="71.4" font-size="23.5" textLength="25.4" lengthAdjust="spacingAndGlyphs">pv</tspan><tspan x="289.6" y="58.0" font-size="30" textLength="162.2" lengthAdjust="spacingAndGlyphs"> (P&amp;O/FLC)</tspan></text>
<line x1="134.2" y1="104.1" x2="212.8" y2="104.1" stroke="#0000ff" stroke-width="1.5"/>
<text font-family='"Liberation Serif", "DejaVu Serif", serif' stroke="#000" stroke-width="0.4"><tspan x="221.7" y="109.2" font-size="30" textLength="40.0" lengthAdjust="spacingAndGlyphs">DP</tspan><tspan x="264.6" y="124.6" font-size="23.5" textLength="25.4" lengthAdjust="spacingAndGlyphs">pv</tspan><tspan x="289.9" y="109.2" font-size="30" textLength="149.8" lengthAdjust="spacingAndGlyphs">(Hpv/P&amp;O)</tspan></text>
<line x1="134.2" y1="150.5" x2="212.8" y2="150.5" stroke="#000000" stroke-width="1.5"/>
<text font-family='"Liberation Serif", "DejaVu Serif", serif' stroke="#000" stroke-width="0.4"><tspan x="218.9" y="154.8" font-size="31.5" textLength="44.0" lengthAdjust="spacingAndGlyphs">DP</tspan><tspan x="264.3" y="170.3" font-size="26" textLength="29.5" lengthAdjust="spacingAndGlyphs">pv</tspan><tspan x="295.8" y="154.8" font-size="31" textLength="153.8" lengthAdjust="spacingAndGlyphs">(Hpv/FLC)</tspan></text>
<rect x="571.9" y="1.1" width="150.7" height="104.8" fill="#fdfdee" stroke="#c9c9c9" stroke-width="1.5"/>
<text y="45.7" font-family='"Liberation Sans", "DejaVu Sans", sans-serif' font-size="33"><tspan x="582.2">X:</tspan><tspan x="618.4"> 157.3</tspan></text>
<text y="87.6" font-family='"Liberation Sans", "DejaVu Sans", sans-serif' font-size="33"><tspan x="582.2">Y:</tspan><tspan x="618.4"> 144.2</tspan></text>
<rect x="539.6" y="108.3" width="29.4" height="27.2" fill="#f8f8d2"/><rect x="542.9" y="111.6" width="22.8" height="20.6" fill="#000"/>
<line x1="240.1" y1="599.4" x2="240.1" y2="971.4" stroke="#000" stroke-opacity="0.15" stroke-width="1.7"/>
<line x1="356.1" y1="599.4" x2="356.1" y2="971.4" stroke="#000" stroke-opacity="0.15" stroke-width="1.7"/>
<line x1="472.2" y1="599.4" x2="472.2" y2="971.4" stroke="#000" stroke-opacity="0.15" stroke-width="1.7"/>
<line x1="588.2" y1="599.4" x2="588.2" y2="971.4" stroke="#000" stroke-opacity="0.15" stroke-width="1.7"/>
<line x1="704.3" y1="599.4" x2="704.3" y2="971.4" stroke="#000" stroke-opacity="0.15" stroke-width="1.7"/>
<line x1="820.3" y1="599.4" x2="820.3" y2="971.4" stroke="#000" stroke-opacity="0.15" stroke-width="1.7"/>
<line x1="124.0" y1="878.4" x2="936.4" y2="878.4" stroke="#000" stroke-opacity="0.15" stroke-width="1.7"/>
<line x1="124.0" y1="785.4" x2="936.4" y2="785.4" stroke="#000" stroke-opacity="0.15" stroke-width="1.7"/>
<line x1="124.0" y1="692.4" x2="936.4" y2="692.4" stroke="#000" stroke-opacity="0.15" stroke-width="1.7"/>
<rect x="124.0" y="599.4" width="812.4" height="372.0" fill="none" stroke="#000" stroke-width="2.2"/>
<line x1="240.1" y1="971.4" x2="240.1" y2="962.4" stroke="#000" stroke-width="2.0"/>
<line x1="240.1" y1="599.4" x2="240.1" y2="608.4" stroke="#000" stroke-width="2.0"/>
<line x1="356.1" y1="971.4" x2="356.1" y2="962.4" stroke="#000" stroke-width="2.0"/>
<line x1="356.1" y1="599.4" x2="356.1" y2="608.4" stroke="#000" stroke-width="2.0"/>
<line x1="472.2" y1="971.4" x2="472.2" y2="962.4" stroke="#000" stroke-width="2.0"/>
<line x1="472.2" y1="599.4" x2="472.2" y2="608.4" stroke="#000" stroke-width="2.0"/>
<line x1="588.2" y1="971.4" x2="588.2" y2="962.4" stroke="#000" stroke-width="2.0"/>
<line x1="588.2" y1="599.4" x2="588.2" y2="608.4" stroke="#000" stroke-width="2.0"/>
<line x1="704.3" y1="971.4" x2="704.3" y2="962.4" stroke="#000" stroke-width="2.0"/>
<line x1="704.3" y1="599.4" x2="704.3" y2="608.4" stroke="#000" stroke-width="2.0"/>
<line x1="820.3" y1="971.4" x2="820.3" y2="962.4" stroke="#000" stroke-width="2.0"/>
<line x1="820.3" y1="599.4" x2="820.3" y2="608.4" stroke="#000" stroke-width="2.0"/>
<line x1="124.0" y1="878.4" x2="133.0" y2="878.4" stroke="#000" stroke-width="2.0"/>
<line x1="936.4" y1="878.4" x2="927.4" y2="878.4" stroke="#000" stroke-width="2.0"/>
<line x1="124.0" y1="785.4" x2="133.0" y2="785.4" stroke="#000" stroke-width="2.0"/>
<line x1="936.4" y1="785.4" x2="927.4" y2="785.4" stroke="#000" stroke-width="2.0"/>
<line x1="124.0" y1="692.4" x2="133.0" y2="692.4" stroke="#000" stroke-width="2.0"/>
<line x1="936.4" y1="692.4" x2="927.4" y2="692.4" stroke="#000" stroke-width="2.0"/>
<clipPath id="cb"><rect x="122.8" y="598.1999999999999" width="814.8" height="374.6"/></clipPath>
<g clip-path="url(#cb)">
<polyline points="124.0,971.2 318.0,971.2 320.4,971.6 321.1,969.1 321.6,966.3 322.5,964.1 322.6,961.5 323.0,958.5 323.4,957.2 323.4,954.5 323.6,951.7 324.0,949.1 324.2,951.5 325.1,954.4 325.3,957.7 325.6,955.9 325.4,953.7 325.7,950.7 326.0,949.1 325.7,947.1 326.1,944.5 325.9,942.1 326.0,939.8 326.6,938.3 326.4,935.5 326.6,933.8 326.9,931.5 326.8,928.7 329.0,892.3 329.1,890.0 329.3,887.8 329.4,884.8 329.4,883.4 329.9,880.0 330.0,878.0 330.1,876.0 330.2,874.4 330.4,871.2 330.6,869.2 331.1,866.5 331.1,864.4 331.3,861.8 331.2,860.3 331.5,856.8 331.9,855.5 331.9,852.4 332.1,850.0 332.5,847.5 332.8,846.4 333.0,843.8 332.8,840.5 333.2,839.5 333.2,836.5 334.2,833.9 334.9,831.7 335.4,829.0 338.6,826.9 340.0,824.4 341.8,822.6 342.3,820.0 343.5,817.4 344.0,815.1 345.3,813.2 347.2,811.8 350.0,808.6 351.5,860.1 352.5,907.3 352.9,909.9 353.6,913.7 354.7,847.2 355.0,850.3 355.2,852.3 355.8,856.0 356.2,858.0 356.2,855.1 356.5,852.4 356.7,850.9 357.2,847.5 357.7,845.4 357.7,842.7 357.9,840.8 359.0,892.3 359.0,895.0 359.1,897.6 359.2,898.9 359.3,900.9 359.6,903.5 359.5,906.7 359.5,907.9 359.5,910.5 360.0,912.8 359.6,915.0 360.0,918.4 360.1,920.2 361.1,860.1 361.2,858.4 361.5,856.0 361.7,853.4 361.5,850.7 362.1,847.9 362.3,846.5 362.3,843.4 362.4,841.7 362.5,839.3 362.6,836.5 363.7,888.0 364.3,842.9 364.8,840.7 365.2,837.7 365.0,836.2 365.8,833.8 365.6,830.9 366.0,828.8 366.5,825.8 366.9,824.0 366.9,820.3 367.4,818.6 368.0,816.3 367.7,813.1 368.1,811.7 368.6,808.6 369.0,807.0 369.9,804.8 370.3,802.7 370.8,800.1 371.1,802.7 371.8,804.6 372.5,807.0 372.9,808.6 374.0,806.4 375.1,804.3 376.4,802.1 378.3,801.1 378.8,803.7 379.4,806.5 379.8,807.9 380.4,810.8 382.1,812.8 383.6,814.0 385.8,816.1 387.3,818.1 388.4,821.5 388.6,819.5 389.2,816.6 389.7,814.4 390.2,811.1 390.5,809.6 391.2,806.5 393.3,804.3 393.7,806.3 393.9,809.8 394.4,811.6 394.3,814.5 394.7,817.1 395.3,818.8 395.4,821.5 396.0,824.0 396.5,826.2 396.5,828.8 397.1,831.8 397.6,834.4 398.5,832.3 398.7,830.4 399.7,827.9 400.3,830.4 400.9,833.3 401.1,836.0 401.9,838.7 402.5,835.9 402.8,833.6 403.2,832.1 403.5,829.3 404.1,826.3 404.5,824.1 404.9,821.5 405.1,819.4 405.4,822.2 405.3,824.1 405.7,827.0 405.7,829.2 406.0,830.8 406.2,834.3 406.5,836.8 406.8,838.7 407.4,836.6 407.9,834.5 409.0,832.1 409.4,830.1 410.0,832.3 410.3,835.2 410.7,837.5 411.5,840.8 412.0,843.8 412.2,846.1 412.1,848.7 412.6,850.6 413.1,853.0 413.4,855.6 413.5,857.2 413.7,860.1 415.0,922.3 415.8,926.6 416.7,825.8 416.9,823.7 417.1,821.2 417.2,818.4 417.1,816.1 417.3,814.4 417.1,811.2 417.4,808.9 417.7,807.4 417.5,804.3 418.4,868.7 419.7,924.5 422.3,954.5 422.4,952.0 422.6,950.2 422.7,947.2 423.2,944.5 423.5,942.8 423.9,940.0 423.7,938.0 424.4,934.8 424.4,933.0 426.5,873.0 428.7,821.5 429.3,824.7 429.3,826.7 429.6,828.4 430.4,831.1 430.6,834.6 430.8,836.5 431.0,838.5 431.7,841.1 431.9,843.4 432.1,846.6 432.2,849.4 432.5,851.3 433.0,853.7 433.1,855.6 433.5,858.4 434.3,860.6 434.6,863.4 434.9,866.5 435.1,868.7 435.7,871.4 436.0,874.2 436.3,876.3 436.6,879.0 436.7,881.2 437.3,883.7 439.4,915.9 440.5,918.5 441.6,920.2 442.5,862.7 443.8,805.2 444.4,802.0 445.5,800.2 447.0,850.2 448.8,900.3 449.1,898.3 449.7,895.1 450.0,893.3 450.5,890.3 450.7,892.3 451.2,894.0 451.5,896.2 451.3,898.6 451.9,901.7 452.0,903.1 452.4,905.6 452.5,907.8 453.0,909.6 453.1,912.9 453.5,915.0 453.7,916.4 453.8,919.2 454.1,920.4 454.2,923.7 454.5,925.3 454.9,923.2 454.6,920.9 454.9,918.6 455.3,916.7 455.6,913.6 455.4,911.7 455.9,909.7 456.1,907.5 456.1,904.9 456.2,902.5 456.3,900.8 456.5,897.8 456.8,899.5 456.9,902.3 456.8,904.7 456.9,906.4 457.5,909.5 457.2,911.6 457.8,914.2 457.4,915.8 457.9,918.6 458.0,920.3 460.0,950.4 460.1,953.1 460.4,955.7 460.8,957.9 461.6,960.2 461.9,963.2 462.0,965.4 462.8,967.6 463.8,970.4 463.8,968.4 464.7,965.9 464.9,964.2 465.1,961.4 465.5,959.9 465.5,957.2 466.2,954.4 466.3,952.9 466.7,951.0 467.4,948.2 468.0,945.4 468.4,947.8 468.5,949.7 468.6,951.9 468.6,953.8 469.2,956.5 469.3,958.5 469.6,960.7 469.3,963.1 469.9,965.4 470.1,968.4 470.0,970.4 470.7,967.9 471.7,965.2 472.5,962.9 472.9,961.1 473.7,957.5 474.3,954.8 474.6,952.6 475.1,950.4 476.6,875.3 477.6,732.5 478.0,735.3 478.1,737.0 478.2,739.6 478.4,741.9 478.3,744.6 478.5,746.9 478.8,750.1 480.1,825.2 481.3,925.3 482.6,965.4 483.8,968.0 484.6,971.2 484.8,968.8 484.9,966.7 485.0,964.9 485.6,961.5 485.6,960.2 485.5,958.0 486.0,955.6 486.3,952.9 486.3,950.4 486.3,947.5 486.6,945.3 486.8,943.6 487.1,941.1 487.3,939.5 487.1,936.1 487.3,934.0 487.4,932.3 487.7,930.1 488.0,927.4 488.1,925.3 490.1,850.2 491.3,900.3 493.1,950.4 493.1,953.3 493.7,954.8 493.3,956.9 493.9,959.2 494.2,962.2 493.8,964.2 494.4,966.3 494.4,968.8 494.6,971.2 494.8,968.8 494.8,966.4 495.1,964.1 495.3,961.7 495.3,959.1 495.9,957.7 495.7,954.9 496.2,952.4 496.3,950.4 496.5,953.2 496.7,955.7 497.0,956.9 497.2,959.8 497.0,962.2 497.7,964.1 497.4,966.0 497.9,968.8 498.1,971.2 498.3,968.9 498.5,966.1 498.7,964.2 498.9,962.2 499.4,959.5 499.8,957.5 499.7,955.8 500.1,952.9 500.4,954.9 500.5,957.5 500.7,960.2 500.9,962.0 501.4,964.8 501.4,967.3 501.8,968.9 502.1,971.2 502.3,968.8 502.6,966.8 503.0,963.5 502.9,962.4 503.5,960.1 503.6,957.3 503.6,954.5 504.3,952.5 504.3,949.8 504.6,947.9 505.0,949.9 505.3,953.2 505.3,954.6 505.6,956.5 506.0,960.0 506.1,961.2 506.3,963.6 506.5,967.1 506.9,968.8 507.1,971.2 507.5,968.9 508.2,967.2 508.2,965.0 509.0,962.9 508.9,960.8 509.6,957.9 509.9,959.4 510.4,962.3 510.9,964.0 511.3,967.0 511.7,968.9 512.1,971.2 512.5,968.9 512.9,966.7 512.9,964.7 513.3,962.1 514.0,959.3 514.2,957.4 514.6,955.4 515.0,957.3 515.4,959.4 515.9,961.5 516.2,963.9 516.4,966.7 516.8,968.9 517.1,971.2 517.5,968.9 517.9,966.5 518.4,964.9 518.6,962.4 519.0,960.3 519.6,957.9 520.5,960.4 521.3,963.0 522.1,965.4 522.5,963.2 523.2,961.5 523.9,959.0 524.0,956.3 524.6,954.1 525.0,956.3 525.4,958.7 525.9,961.0 526.3,963.6 526.7,966.5 527.2,968.7 527.6,971.2 527.9,968.8 528.2,967.0 528.5,964.0 528.3,961.5 528.5,960.3 529.2,956.6 529.3,954.3 529.3,952.8 529.6,950.4 530.3,947.5 530.4,945.2 531.1,942.8 531.4,940.4 532.0,937.6 533.1,935.4 533.3,938.3 533.7,939.7 534.3,943.6 534.8,945.7 535.1,947.9 535.3,946.3 535.7,943.2 535.8,940.4 536.2,939.2 536.6,936.6 536.8,934.3 536.7,931.9 537.0,929.7 537.3,926.9 537.6,925.3 538.1,922.3 538.8,920.7 539.0,918.4 539.9,915.6 540.2,912.8 541.2,910.2 542.1,907.3 542.7,905.3 543.3,908.3 543.6,910.8 544.0,912.7 544.3,915.9 544.7,917.8 545.2,915.7 545.1,912.9 545.7,910.3 545.9,908.8 545.9,906.0 546.4,904.1 548.2,901.5 549.7,899.0 549.8,901.2 550.2,903.7 550.3,905.7 550.4,907.9 550.4,911.4 550.5,913.7 550.7,915.3 551.1,917.8 551.2,920.6 551.4,923.6 551.4,925.3 551.9,928.0 552.0,930.5 552.1,932.0 552.5,934.8 552.7,937.3 552.6,939.2 552.8,941.4 553.1,943.8 553.7,945.1 553.6,948.6 553.9,950.4 556.4,952.9 557.1,949.7 557.2,948.3 558.1,945.8 558.3,943.0 558.9,940.4 559.3,937.2 560.3,935.3 560.7,933.0 561.4,930.3 562.4,928.3 563.9,925.3 565.0,923.0 566.4,920.3 566.8,917.1 567.3,915.7 567.9,912.1 568.5,910.1 568.9,907.8 569.7,905.4 570.1,903.4 570.6,900.5 571.4,897.8 572.3,894.9 573.5,893.3 574.7,890.3 575.5,893.1 575.8,895.1 576.6,897.4 577.2,900.3 577.2,902.4 577.7,905.4 578.0,907.7 578.2,909.8 578.2,912.1 578.7,914.5 578.5,915.8 578.9,918.2 579.1,921.5 579.2,923.7 579.4,925.6 579.7,927.8 579.9,925.8 580.2,922.7 580.8,921.3 581.1,918.6 580.9,917.2 581.6,914.9 581.8,912.9 582.0,909.9 582.2,907.8 582.9,905.5 583.6,902.4 584.0,900.3 583.8,902.8 583.8,904.9 583.9,907.5 584.0,910.0 584.3,912.9 584.4,914.4 584.3,917.3 584.4,914.9 584.4,913.0 585.0,909.8 585.1,907.0 585.2,905.6 585.3,902.9 585.7,900.1 586.1,898.5 586.2,895.0 585.9,892.9 586.4,890.4 586.5,888.4 586.4,885.6 586.7,883.7 586.9,881.5 587.3,879.6 588.1,876.5 588.3,874.4 588.8,877.1 589.0,879.8 589.2,881.5 589.7,884.4 590.6,887.5 591.2,890.1 591.9,893.0 592.1,894.9 592.6,897.3 594.3,898.7 594.4,896.8 595.0,893.5 595.4,891.3 595.7,888.7 596.0,885.9 596.2,883.6 596.5,881.4 596.8,879.7 597.2,877.2 598.9,874.4 599.2,876.4 599.5,879.6 599.9,881.6 600.3,884.4 600.3,886.9 600.6,889.1 600.9,891.7 601.1,893.8 601.5,895.6 602.1,898.3 602.2,900.1 602.2,901.9 602.7,905.0 602.9,906.8 603.4,909.1 603.6,911.6 603.6,909.0 604.3,906.6 604.3,904.6 604.4,902.3 604.8,899.1 605.0,896.3 605.0,894.4 605.3,896.2 605.5,899.1 605.7,900.8 605.5,904.1 605.8,906.3 606.4,908.7 606.2,910.0 606.5,913.0 606.9,915.3 606.5,918.1 606.9,919.3 607.3,922.5 607.5,924.4 607.5,926.6 607.8,924.8 607.5,922.4 607.9,920.3 607.7,918.4 607.9,914.9 608.0,913.0 608.2,910.5 608.1,908.8 608.4,906.2 608.6,904.0 608.7,902.0 608.6,900.1 608.8,897.1 609.0,895.6 609.4,892.7 609.6,889.8 609.5,887.9 609.7,885.2 610.0,882.9 611.5,880.1 611.7,877.7 612.1,875.0 612.4,872.9 612.7,869.5 612.9,867.2 613.4,865.2 613.4,862.6 613.5,860.9 613.9,858.0 614.3,855.9 614.1,853.6 614.6,851.7 614.8,849.3 615.2,852.2 615.1,853.7 615.2,856.2 615.4,858.4 615.8,861.0 615.9,863.1 615.8,865.5 616.1,867.2 616.1,870.3 616.5,871.6 616.5,874.1 616.7,877.2 617.0,879.3 617.0,882.5 617.5,884.4 617.6,886.8 617.7,888.7 617.8,891.3 618.0,894.0 618.1,896.3 618.2,898.8 618.5,900.5 618.7,903.3 618.6,905.8 618.8,903.1 618.9,901.2 619.0,899.7 619.3,897.1 619.5,894.4 619.4,892.5 619.1,889.9 619.5,887.8 619.8,885.7 619.8,883.3 619.9,882.2 620.1,880.0 620.1,877.2 620.3,875.3 620.9,872.5 621.5,870.1 622.1,867.1 622.3,864.7 622.9,861.5 623.5,863.9 624.6,867.2 624.9,869.8 624.6,871.1 625.2,873.3 625.1,875.5 625.0,878.8 625.2,880.7 625.3,882.9 625.7,884.4 625.8,887.1 625.9,889.5 625.8,891.5 625.7,889.4 626.4,886.1 626.4,884.6 626.3,882.5 626.7,879.9 626.8,876.6 626.9,875.4 626.8,872.9 627.2,870.1 627.6,867.4 628.1,865.1 628.3,862.5 628.6,860.1 629.3,856.9 629.8,853.6 630.0,856.0 630.5,857.8 630.6,860.2 631.0,862.4 630.9,864.5 631.2,867.2 631.9,864.9 632.2,862.9 632.6,860.0 633.2,856.5 633.5,858.4 633.3,861.0 633.7,862.9 633.9,865.9 633.8,867.4 634.0,869.8 634.0,872.2 634.0,875.0 634.4,877.2 634.2,879.8 634.6,881.3 634.4,883.5 634.6,886.4 634.8,888.7 634.5,891.1 634.7,892.5 635.0,894.5 635.1,896.9 634.9,898.6 635.1,901.6 635.2,903.6 635.1,905.8 636.1,862.9 636.1,860.2 636.2,857.7 636.6,855.7 636.6,853.0 637.0,850.9 637.0,848.6 637.2,845.9 636.9,843.2 637.2,841.5 637.4,839.4 637.7,837.0 637.9,834.5 638.1,832.3 638.1,830.5 638.6,828.3 638.7,825.7 641.5,777.1 645.4,701.3 647.2,762.8 648.7,971.6 649.5,891.5 650.4,848.6 650.7,851.4 651.5,852.9 651.7,855.4 652.3,857.7 652.7,860.8 652.7,858.5 653.3,855.8 653.5,853.4 653.5,850.0 654.4,850.8 654.6,852.7 654.5,855.5 654.7,858.1 655.1,860.5 654.8,862.2 654.9,865.1 655.4,866.5 655.2,869.0 655.6,871.5 655.5,873.6 655.6,875.7 655.8,878.7 656.1,881.2 656.4,883.2 656.2,884.6 656.4,887.6 656.5,890.3 656.9,892.5 657.2,894.3 657.1,896.2 657.4,898.4 657.5,901.1 657.7,903.3 657.6,905.5 658.0,907.3 658.3,910.1 658.5,911.7 658.9,914.4 659.4,916.4 659.6,918.5 660.1,921.3 661.1,923.6 662.3,927.0 663.8,928.3 663.8,926.4 663.9,923.3 664.4,921.5 664.6,918.6 664.3,916.0 664.7,914.4 664.9,911.5 665.0,909.2 664.8,907.0 665.2,904.6 665.4,902.6 665.3,900.7 665.4,898.1 665.4,895.8 666.1,927.0 666.9,929.3 666.9,931.1 667.6,934.4 668.0,935.9 668.7,938.4 669.3,939.8 670.1,942.7 671.4,945.9 673.0,948.2 674.4,950.0 675.9,951.6 677.3,952.2 677.2,949.3 677.7,946.7 677.7,944.5 678.0,942.6 678.0,939.6 678.3,938.0 678.3,935.2 679.3,894.4 680.7,851.5 682.2,963.1 682.9,755.1 684.3,862.9 685.8,690.0 686.9,905.8 687.5,968.8 689.3,725.8 690.3,905.8 691.2,970.2 692.3,862.9 693.2,827.2 694.6,827.2 694.8,829.3 695.0,832.0 694.6,833.8 695.0,835.5 694.9,838.5 694.9,840.7 695.0,842.5 695.4,845.2 695.0,846.7 695.5,849.1 695.3,851.5 695.2,854.4 695.5,855.6 695.7,858.6 696.0,860.2 696.1,862.8 696.3,865.1 696.3,867.1 696.3,869.1 696.6,871.9 696.5,874.0 696.5,875.7 696.9,877.7 696.8,880.1 697.0,882.5 696.8,884.7 697.0,886.6 697.3,889.5 697.3,890.9 697.4,893.8 697.5,895.8 697.8,897.6 697.9,899.5 698.1,902.6 698.0,904.3 698.3,907.2 698.2,908.7 698.5,911.5 698.9,912.8 699.1,915.1 699.4,917.7 699.5,920.5 699.7,922.6 700.1,925.7 700.3,927.3 701.8,931.6 703.2,921.6 703.9,900.1 704.9,880.1 705.8,855.8 707.2,791.4 708.6,834.3 709.4,855.8 710.1,877.2 711.2,862.9 712.2,877.2 713.6,852.9 715.1,837.2 717.2,831.4 718.4,848.6 719.4,861.5 720.8,847.2 722.2,845.8 723.2,748.5 724.4,862.9 725.1,971.6 725.8,947.3 727.0,834.3 728.7,834.3 730.8,848.6 733.0,872.9 735.1,880.1 736.1,851.5 737.3,865.8 738.4,882.9 739.4,901.5 740.8,918.7 742.3,928.7 743.7,932.0 745.8,931.3 747.6,928.4 749.0,918.7 750.4,915.6 751.6,901.5 753.0,881.5 754.4,864.3 755.6,853.6 756.1,868.6 757.0,777.1 758.8,797.5 759.5,840.0 760.8,750.0 761.8,830.0 763.0,877.5 765.0,914.5 767.0,931.5 768.8,936.0 770.0,919.5 770.8,926.5 771.5,865.0 772.2,931.0 773.8,928.5 776.2,941.0 780.0,953.2 785.0,963.0 790.0,967.5 797.5,969.8 805.0,971.0 936.0,971.2" fill="none" stroke="#ff0000" stroke-width="2.7" stroke-linejoin="round" stroke-linecap="butt"/>
<polyline points="124.0,971.2 314.0,971.2 316.1,971.6 323.6,969.9 326.8,967.8 329.6,967.1 332.2,966.3 334.4,966.0 336.6,965.4 338.6,964.8 340.7,963.6 342.9,963.1 344.5,961.8 346.1,959.8 348.3,956.6 350.4,955.5 350.8,958.5 351.5,960.9 352.0,963.7 352.6,966.7 353.2,969.5 355.3,971.6 355.6,968.8 355.8,965.6 356.2,963.1 356.6,965.6 356.8,968.5 357.1,971.2 360.1,971.2 363.3,968.4 364.8,965.9 366.5,963.1 368.0,960.6 369.7,957.7 371.2,956.2 372.9,954.5 376.1,953.4 379.4,952.3 381.1,949.8 382.6,948.0 384.1,945.2 385.8,942.7 387.9,940.5 390.1,941.2 393.3,938.4 395.0,936.6 396.5,934.1 399.7,932.6 402.5,930.9 403.7,932.9 404.7,935.2 405.5,932.5 406.2,929.8 409.4,929.2 412.0,928.7 412.7,930.7 413.2,933.0 413.5,935.5 413.5,938.0 413.6,940.0 413.7,942.2 414.0,944.7 414.2,946.8 414.2,949.4 414.4,952.1 414.6,954.1 414.7,956.6 414.9,959.4 415.1,962.3 415.6,964.8 415.8,967.3 416.1,964.4 416.3,962.1 416.3,959.3 416.8,956.8 416.9,954.5 417.2,956.8 417.4,959.9 417.5,962.1 417.8,964.8 418.0,967.3 419.0,969.3 420.1,971.2 423.3,971.6 424.4,969.5 425.5,967.1 426.5,965.2 426.9,963.0 427.1,960.2 427.1,957.8 427.5,955.8 427.7,953.3 427.8,951.1 428.0,948.6 428.2,946.0 428.6,944.1 428.7,941.6 429.0,938.8 429.6,936.8 429.9,933.8 430.5,931.4 430.8,928.7 432.4,927.1 434.0,925.5 436.2,922.7 436.5,924.9 436.5,927.3 436.6,930.3 437.0,932.6 437.2,935.0 437.3,937.3 437.4,939.4 437.7,941.7 437.8,944.1 438.1,947.0 438.1,949.3 438.4,951.3 438.5,953.6 438.6,955.8 439.0,958.1 439.1,960.9 439.2,962.9 439.4,965.2 440.4,967.6 441.6,970.6 442.5,967.9 443.3,965.6 443.9,962.8 444.5,960.4 444.7,958.4 444.8,956.1 444.9,953.6 444.9,951.3 445.1,949.5 445.3,946.9 445.3,944.9 445.4,942.2 445.5,940.4 445.7,938.0 445.9,935.9 446.1,933.8 446.2,931.4 446.4,929.4 446.6,926.9 446.7,925.0 447.0,922.9 447.0,920.3 448.0,916.6 448.4,918.8 448.9,920.8 449.2,923.6 449.7,925.7 450.0,927.8 450.8,925.9 451.7,923.9 452.5,921.6 455.0,921.1 457.5,920.3 460.1,921.0 462.5,921.6 465.1,921.1 467.5,920.3 470.6,920.6 473.8,921.6 475.6,922.8 477.1,965.4 478.8,967.9 480.1,925.3 480.3,922.8 480.5,920.1 480.5,917.9 480.7,915.3 480.9,912.5 481.0,910.2 481.3,907.8 481.6,910.1 482.2,912.8 482.7,915.4 483.1,917.8 486.3,920.3 488.8,917.8 490.1,947.9 491.3,917.8 493.8,919.1 496.9,919.1 499.6,919.2 502.6,919.8 505.1,919.4 507.7,919.0 510.0,918.8 512.5,918.7 515.1,918.3 517.6,918.3 520.2,918.2 522.6,918.3 525.2,918.1 527.6,917.8 530.0,917.5 532.7,917.4 535.3,917.4 537.6,916.9 540.2,916.6 542.5,916.9 545.2,916.3 547.6,916.7 550.3,916.7 552.7,916.6 555.2,916.3 557.6,916.1 560.1,916.5 562.8,916.3 565.2,915.8 567.6,915.7 570.2,915.8 572.6,915.2 575.2,915.4 577.7,914.8 580.8,914.5 584.0,914.6 584.3,914.4 588.6,913.7 591.5,914.5 594.3,915.9 596.6,915.7 599.2,915.9 601.5,915.6 603.9,915.2 606.3,915.4 608.6,915.6 611.4,914.8 614.3,913.7 616.4,912.5 618.6,911.6 619.3,943.0 620.8,905.8 622.2,908.7 624.3,911.6 628.6,911.6 631.4,912.6 634.4,913.0 637.2,913.4 640.1,913.7 642.2,911.6 643.1,909.5 643.9,907.3 644.2,909.8 644.7,912.2 645.1,914.4 645.1,916.9 645.3,919.2 645.4,921.8 645.5,924.4 645.5,926.4 645.8,929.1 645.8,931.6 646.0,929.6 646.2,926.7 646.3,924.7 646.4,922.6 646.6,920.1 646.6,917.8 646.7,915.8 647.0,913.1 647.2,910.7 647.2,908.7 649.4,908.7 649.7,943.0 650.8,944.5 651.1,946.9 651.5,948.9 651.6,951.6 652.0,953.6 652.2,955.9 652.7,958.3 653.2,960.4 653.7,963.1 654.6,966.1 655.8,968.8 658.7,970.5 665.8,970.5 677.3,970.5 678.3,969.5 679.3,965.9 679.5,963.3 679.6,961.2 679.8,958.2 680.0,956.4 679.9,953.8 680.1,951.4 680.3,948.8 680.5,946.7 680.4,944.5 680.7,942.0 680.7,939.7 680.7,937.7 680.7,935.6 680.9,933.1 680.9,930.8 681.2,929.0 681.1,927.0 681.2,924.5 681.4,922.4 681.5,920.1 681.6,918.1 681.9,915.1 682.1,912.7 682.3,910.6 682.4,908.3 682.6,905.8 682.8,903.3 683.0,900.9 683.0,898.7 683.2,896.1 683.3,894.1 683.6,891.5 684.0,889.3 684.3,886.5 684.6,884.4 684.9,886.5 685.4,889.2 685.9,891.8 686.5,893.8 686.9,896.0 687.2,898.4 687.8,901.4 688.1,903.3 688.6,905.8 688.8,908.4 688.8,910.5 689.1,912.5 689.2,914.5 689.4,916.9 689.5,919.0 689.8,921.5 689.9,923.7 690.1,925.9 690.3,927.9 690.4,930.2 690.5,932.0 690.8,934.4 691.1,937.1 691.7,940.4 692.2,943.0 692.3,945.8 692.9,948.2 693.0,950.8 693.2,953.3 693.6,955.9 694.1,958.2 694.7,960.8 695.1,963.7 695.8,965.9 697.1,967.9 698.6,970.2 701.5,970.9 703.6,968.8 705.1,963.1 706.1,948.8 706.9,891.5 707.5,877.2 708.6,905.8 710.1,918.7 711.5,921.6 712.6,934.4 713.6,938.7 714.6,955.9 716.1,963.1 717.2,964.5 718.4,948.8 719.4,933.7 720.4,948.8 721.5,965.9 722.7,920.1 723.2,891.5 723.9,877.2 725.8,920.1 726.5,945.9 728.0,957.3 730.1,964.5 733.0,968.1 735.8,968.8 738.7,970.5 743.0,971.4 748.7,969.5 753.0,967.4 755.1,963.1 756.6,955.2 757.6,955.9 758.8,960.0 759.5,960.0 761.2,965.0 763.8,970.8 770.0,970.8 771.5,967.5 773.0,970.8 780.0,970.8 790.0,970.2 802.5,971.0 936.0,971.2" fill="none" stroke="#0000ff" stroke-width="2.7" stroke-linejoin="round" stroke-linecap="butt"/>
<polyline points="124.0,971.2 318.0,971.2 320.4,971.6 320.9,969.5 321.6,967.8 321.9,965.2 322.5,963.1 322.9,959.9 323.2,958.0 323.4,955.4 323.7,952.7 323.7,950.9 324.0,948.0 324.6,951.0 324.9,953.3 325.3,956.6 326.8,926.6 329.0,890.1 329.0,888.2 329.4,885.9 329.4,883.6 329.8,880.3 329.8,878.9 329.9,875.6 330.1,874.1 330.4,872.2 330.7,868.8 331.0,866.7 330.9,865.1 331.1,862.3 331.4,860.1 331.7,858.0 331.6,854.6 331.7,853.1 331.8,850.8 332.2,848.8 332.4,845.5 332.4,843.4 332.5,841.3 333.1,838.6 332.8,837.0 333.2,834.4 333.3,832.4 334.2,829.5 334.2,827.6 334.6,824.9 335.3,822.2 335.4,820.4 336.9,823.6 338.2,820.9 339.7,819.4 340.7,817.0 341.8,814.0 342.2,812.3 343.1,809.8 343.6,807.0 344.0,804.3 345.2,802.1 346.1,800.5 347.2,797.9 349.1,795.7 350.8,793.6 351.5,847.2 352.1,898.7 352.2,901.2 352.6,904.2 353.2,906.4 353.1,908.5 353.6,911.6 354.7,845.1 355.1,847.2 355.3,850.3 356.1,853.1 356.2,855.8 356.4,853.0 356.7,851.4 356.9,848.1 357.0,846.0 357.3,843.4 357.6,841.5 357.9,838.7 359.0,890.1 359.3,892.7 359.1,895.4 359.1,897.2 359.3,899.3 359.7,902.2 359.2,903.8 359.4,906.3 359.8,908.1 359.9,910.5 360.1,913.2 359.7,916.2 360.1,918.0 361.1,858.0 361.5,855.2 361.4,853.4 361.8,851.3 361.7,848.5 361.8,845.6 362.1,843.3 362.0,841.6 362.1,839.3 362.6,836.2 362.6,834.4 363.7,885.8 364.3,838.7 364.9,836.2 365.1,833.9 365.4,830.8 365.6,828.3 366.1,827.0 366.2,824.5 366.5,821.5 366.9,819.4 367.3,816.2 367.3,814.8 367.5,812.2 367.9,809.1 368.3,806.4 368.2,805.3 368.6,802.2 368.6,800.5 369.0,798.1 369.3,796.0 369.4,793.6 370.0,790.1 370.1,788.6 370.3,786.1 371.8,785.0 372.4,786.5 373.0,789.1 374.0,791.5 374.9,790.0 375.5,787.8 376.1,785.0 378.3,782.9 378.6,784.8 379.1,787.5 379.9,789.4 380.4,791.5 382.6,790.4 383.4,788.2 384.7,786.1 386.3,787.1 387.9,789.3 388.5,786.0 388.9,783.5 389.6,780.8 390.1,778.6 391.2,775.8 392.7,773.2 393.1,775.3 393.5,778.6 393.8,780.0 394.4,782.9 394.9,784.9 395.5,787.9 395.9,789.4 396.5,792.0 397.3,794.4 397.6,796.8 398.0,794.6 398.4,792.5 398.6,790.3 399.3,787.8 399.4,784.7 399.7,782.9 400.2,784.9 401.3,786.5 401.9,789.3 402.4,791.1 402.5,793.4 403.0,795.6 403.2,799.0 403.9,801.0 404.0,803.3 404.2,800.7 404.5,799.1 404.6,796.1 404.4,793.7 404.5,792.7 405.1,790.3 405.2,787.8 405.1,785.5 405.2,782.9 405.5,780.8 405.9,783.7 405.9,786.1 406.1,788.2 406.6,791.0 406.9,793.7 407.1,795.7 407.2,797.9 407.8,795.2 408.2,793.0 409.1,790.9 409.4,789.3 410.0,791.2 410.2,795.1 410.4,797.5 410.8,799.1 411.5,802.2 411.8,799.4 412.4,798.4 413.2,795.8 414.3,762.5 414.4,760.2 414.6,757.2 415.1,754.8 415.0,752.9 415.8,922.3 416.7,752.9 416.9,755.4 417.1,758.3 417.0,760.9 417.3,763.6 418.0,825.8 419.2,911.6 421.2,943.8 421.9,945.9 422.2,948.7 422.8,952.2 423.3,954.5 423.6,952.7 423.3,949.7 423.7,947.5 423.8,945.5 424.1,942.8 424.2,940.1 424.0,938.4 424.5,936.0 424.4,933.0 426.5,868.7 428.7,797.9 428.8,800.8 428.9,802.3 429.5,804.9 429.2,807.2 429.4,809.6 430.0,812.4 429.8,815.2 430.0,816.8 430.4,819.4 430.8,817.6 431.0,814.7 431.1,812.4 431.1,810.0 431.6,808.3 431.8,805.4 431.9,803.2 431.8,800.0 432.2,797.8 432.2,796.3 432.5,793.6 432.5,796.0 433.1,798.7 433.4,800.3 433.1,803.5 433.3,805.5 433.9,808.4 433.7,810.1 434.0,812.9 434.7,815.7 434.9,818.4 435.4,820.1 435.9,823.2 436.2,825.8 436.5,823.5 436.6,821.7 436.6,819.2 437.1,815.6 437.3,813.2 436.9,811.4 437.5,808.8 437.6,806.6 437.7,804.3 439.0,847.2 440.5,911.6 441.2,914.2 441.6,918.0 442.5,830.2 443.8,800.2 444.1,797.7 444.2,795.2 444.3,793.4 444.6,790.6 444.5,789.5 444.7,786.7 445.4,785.3 445.3,782.6 445.5,780.1 445.5,781.7 446.0,784.9 446.2,787.5 446.0,788.9 446.3,791.3 446.7,793.5 446.9,795.6 446.6,798.2 447.0,800.2 448.8,850.2 449.1,853.1 449.0,855.4 449.5,858.3 449.6,860.3 450.0,862.7 449.9,859.9 450.2,857.9 450.2,855.6 450.7,854.2 450.6,852.2 450.9,849.7 451.2,846.6 451.0,844.7 451.3,842.7 451.7,844.5 451.6,846.7 451.8,849.4 451.9,851.7 452.4,853.6 452.6,856.0 452.9,857.7 453.0,860.2 453.2,863.2 453.5,865.0 453.4,866.8 453.6,870.1 453.8,871.6 454.0,874.7 454.0,876.9 454.4,878.3 454.6,880.6 454.5,883.2 454.8,884.9 455.0,887.8 456.3,850.2 457.5,817.7 458.8,862.7 460.5,912.8 461.4,915.4 462.5,917.8 462.8,915.0 463.4,912.5 464.1,910.2 464.7,908.3 465.0,905.3 465.5,903.1 466.4,900.3 466.8,898.3 467.5,895.3 467.5,896.8 468.2,899.8 468.4,901.5 468.6,904.4 468.4,907.0 468.7,909.1 469.0,910.3 469.1,913.1 469.5,915.3 470.2,917.5 471.3,920.3 471.3,917.6 471.5,915.2 471.8,913.4 472.1,911.7 472.2,909.2 472.3,907.1 472.4,904.3 472.7,902.8 473.0,900.3 473.2,902.1 473.6,904.8 473.9,907.0 474.3,908.6 474.2,911.6 474.6,913.3 474.9,915.1 475.1,917.8 476.6,850.2 477.6,750.1 478.6,717.5 479.6,750.1 479.7,748.1 479.8,745.1 480.1,743.1 480.5,739.9 480.6,737.6 481.6,800.2 482.6,875.3 483.8,950.4 484.5,952.7 484.7,955.3 485.1,957.9 486.3,925.3 486.7,922.6 486.8,920.3 487.2,918.4 487.8,915.4 488.1,912.8 489.6,850.2 490.8,795.1 492.1,850.2 493.1,925.3 493.2,927.8 493.9,930.3 494.0,932.2 494.1,935.5 494.4,938.0 494.6,940.4 495.0,938.5 494.8,935.8 495.3,933.3 495.0,931.2 495.2,929.1 495.6,926.5 495.7,924.6 495.9,922.6 496.2,920.5 496.3,917.3 496.3,915.3 497.0,912.6 497.1,910.5 497.8,907.4 497.7,905.1 498.1,903.2 498.8,900.3 498.7,901.9 499.2,905.1 499.6,907.1 499.3,909.4 499.4,912.4 499.6,913.3 499.9,916.9 500.0,918.3 500.4,920.6 500.3,923.3 500.6,925.3 501.1,922.4 501.3,920.4 501.9,917.4 502.2,915.4 502.3,913.1 502.6,910.3 503.2,907.1 503.0,905.8 503.7,902.2 503.8,900.5 504.0,898.5 504.6,895.3 504.8,897.6 505.1,899.5 505.3,901.9 505.1,904.6 505.6,906.2 505.8,908.4 505.7,910.2 506.0,913.1 506.3,915.3 506.7,912.4 507.1,910.4 507.4,907.9 508.0,905.2 508.1,902.8 509.3,905.8 510.1,907.8 511.2,905.9 512.1,902.8 512.5,904.9 512.6,907.5 512.7,910.2 513.1,912.7 513.5,914.9 513.9,917.8 514.4,920.7 514.8,922.6 515.0,925.2 515.4,927.7 516.2,929.9 516.4,932.8 516.7,930.8 516.8,928.6 516.7,926.5 517.3,923.5 517.2,921.8 517.6,919.3 518.1,918.2 518.1,915.3 518.6,912.5 518.9,910.7 519.9,908.5 520.1,906.6 520.2,909.4 520.3,911.4 520.5,913.4 520.9,915.6 521.1,918.3 521.1,920.4 521.3,922.2 521.9,923.7 521.8,925.8 521.9,928.5 522.4,931.4 522.5,933.0 522.6,935.4 522.8,933.3 523.7,930.6 523.9,928.0 524.1,925.0 524.6,922.4 525.1,920.3 526.5,917.5 527.6,915.3 527.7,917.0 528.1,920.1 528.6,921.4 528.6,923.4 528.9,926.1 529.4,928.1 529.3,930.8 529.6,932.8 529.8,935.2 530.1,937.3 530.5,939.1 530.8,941.0 530.7,943.7 531.0,945.4 531.2,947.9 531.4,950.4 531.8,948.1 532.9,944.8 533.4,942.5 533.9,940.4 534.5,943.2 535.0,944.7 535.1,948.4 536.1,949.7 536.4,952.9 537.3,955.7 538.1,958.3 538.9,960.4 539.3,962.5 540.2,964.7 541.1,968.1 541.4,970.4 542.0,967.5 543.3,965.2 543.9,962.9 545.4,965.0 546.4,967.9 547.1,965.6 547.6,962.4 548.0,960.3 548.3,957.3 548.9,955.4 549.4,958.0 549.9,960.4 550.9,962.6 551.4,965.4 551.9,962.9 551.7,960.6 552.1,958.4 552.5,956.0 552.5,953.5 552.5,952.1 552.9,949.0 553.3,947.5 553.4,945.2 553.7,941.9 553.4,939.7 553.9,937.9 554.5,934.7 555.7,931.6 555.8,933.3 556.0,937.0 556.7,939.1 556.5,940.6 557.0,942.9 557.1,945.9 557.2,948.4 557.7,950.4 557.9,947.4 558.4,945.9 558.8,944.0 558.9,941.7 558.9,938.7 559.6,936.5 559.7,934.1 559.9,936.8 560.3,938.9 560.6,941.8 560.9,943.5 560.7,946.4 561.1,948.7 561.4,950.4 561.9,952.2 562.4,954.9 563.2,958.3 563.9,960.4 564.9,957.3 565.5,955.0 566.4,952.9 566.7,955.1 567.0,957.9 567.5,960.3 567.8,962.1 568.1,965.1 568.5,966.7 568.9,969.2 569.2,966.4 570.1,964.9 570.4,962.1 570.7,960.6 571.4,957.9 572.4,955.1 572.9,952.5 573.8,950.4 574.7,947.9 575.0,949.9 575.9,953.6 576.0,955.0 576.7,957.9 577.2,960.4 578.4,963.5 579.7,965.4 580.5,962.4 580.8,959.9 581.8,957.5 582.2,955.4 582.6,958.5 583.2,960.6 583.7,962.8 584.0,965.4 584.2,962.5 584.0,959.6 584.3,957.3 584.4,959.4 584.7,963.1 584.9,965.3 585.6,968.2 585.7,970.2 586.1,968.2 586.1,965.0 586.3,962.9 586.0,960.5 586.2,959.0 586.1,957.0 586.1,954.9 586.6,952.7 586.3,949.2 586.4,947.0 586.6,944.8 586.9,943.0 587.1,940.6 587.6,937.7 587.6,935.7 587.9,933.0 588.6,936.3 589.3,938.7 590.7,935.9 591.4,939.3 591.9,941.4 592.2,944.5 592.2,947.1 593.0,949.2 593.3,952.3 593.6,954.5 594.4,952.0 595.0,948.8 595.2,946.7 595.8,944.2 595.7,941.5 596.4,938.6 596.5,935.9 597.2,933.5 598.3,930.2 599.2,931.7 600.0,934.4 600.3,936.2 600.3,938.7 600.8,942.1 601.0,943.4 601.2,946.1 601.5,948.8 602.0,951.4 601.8,952.7 602.1,956.2 602.7,958.4 602.9,960.2 603.4,957.5 604.0,954.3 604.3,951.6 604.5,954.8 604.9,956.3 605.2,958.9 605.5,961.6 605.8,965.1 606.3,968.0 606.9,970.2 607.3,967.5 607.6,965.5 607.5,962.9 607.9,960.2 608.0,958.4 608.2,955.0 608.2,954.1 608.8,951.7 609.0,949.2 609.1,946.3 609.3,944.5 610.0,942.3 610.3,938.6 610.8,935.9 611.0,938.3 611.2,940.8 611.4,944.2 612.0,945.7 612.2,948.8 612.4,946.9 612.4,943.6 612.8,942.4 613.0,939.0 612.6,937.7 612.8,935.2 613.0,931.7 613.4,930.7 613.6,927.2 613.7,925.1 613.6,923.0 613.9,920.6 614.0,918.1 614.3,915.8 614.5,913.2 614.2,910.8 614.8,908.4 614.8,905.8 614.8,908.1 614.9,910.8 615.1,912.6 615.2,914.8 615.3,917.7 615.5,920.1 615.8,922.9 615.8,924.8 615.8,927.3 615.7,929.4 615.9,932.0 616.2,934.2 616.1,936.9 616.7,939.3 616.7,941.3 616.8,943.8 617.1,947.0 616.9,948.8 617.0,951.6 617.0,954.0 617.5,956.3 617.5,959.0 617.7,961.2 617.9,963.1 618.6,920.1 619.2,773.9 620.1,773.9 620.8,920.1 621.5,968.8 622.6,934.4 623.0,931.5 623.0,929.2 623.2,927.6 623.6,925.1 623.2,922.8 623.6,920.1 624.0,922.4 623.8,925.0 624.0,926.8 623.7,929.3 624.0,930.8 624.2,932.7 624.0,935.7 624.5,937.9 624.2,939.9 624.5,942.1 624.6,943.9 624.3,946.7 624.6,948.8 625.5,877.2 626.1,970.2 626.2,967.8 626.7,965.5 627.2,963.1 628.4,920.1 628.7,917.1 628.8,915.3 629.4,913.0 629.8,910.1 629.9,912.4 629.7,914.5 629.9,916.1 630.2,919.7 630.3,920.6 630.2,923.4 630.7,925.9 630.5,928.5 630.8,930.6 630.7,932.0 630.8,934.4 631.1,931.6 631.2,930.3 631.4,927.1 631.3,924.8 631.5,922.4 631.8,920.1 631.6,923.2 632.0,925.4 632.4,926.6 632.1,929.5 632.4,932.3 632.5,934.4 632.9,936.4 632.6,938.7 632.9,941.6 634.1,905.8 635.1,971.6 636.1,920.1 636.3,917.9 636.5,915.5 636.4,914.0 636.7,911.9 636.4,908.7 636.5,907.6 636.8,905.4 636.9,902.8 637.1,900.6 636.7,898.3 636.8,895.3 636.9,894.1 637.2,891.5 637.4,888.5 637.9,886.4 637.7,884.8 638.2,881.8 638.7,879.3 638.7,877.2 638.7,875.3 639.4,872.2 639.2,870.7 639.7,867.3 639.7,865.2 640.1,862.9 640.4,860.8 640.5,857.5 640.7,855.8 641.3,853.0 641.0,850.4 641.5,848.6 641.4,846.2 641.8,843.4 642.2,841.5 642.0,838.7 642.3,836.8 642.2,833.7 642.7,832.2 642.6,829.1 642.9,827.2 645.1,746.3 646.1,820.0 646.7,971.6 647.2,971.6 648.1,820.0 650.4,768.5 651.5,805.7 651.8,802.9 652.4,801.7 652.7,799.4 653.0,796.7 652.8,798.9 652.9,800.8 653.1,804.3 653.1,806.4 653.4,807.8 653.6,810.2 653.4,813.0 653.6,815.1 653.5,817.4 653.7,820.0 653.8,822.7 653.9,823.8 653.7,826.5 654.1,828.4 654.0,830.6 653.9,832.7 653.9,835.5 654.1,836.9 653.9,840.0 654.1,841.9 654.0,844.5 654.1,845.9 654.4,848.6 654.6,851.2 654.7,853.4 654.6,855.9 654.9,856.7 654.8,859.2 655.2,861.2 655.0,864.5 655.5,866.0 655.7,868.8 655.6,870.3 655.5,872.1 655.6,875.0 655.8,877.2 655.7,879.2 655.9,882.1 656.1,883.7 656.4,886.0 656.8,888.7 656.9,891.0 657.2,892.0 657.3,894.5 657.2,897.3 657.6,899.9 657.5,901.4 657.6,903.2 658.0,905.8 658.2,907.6 658.9,910.2 659.3,912.7 659.2,915.4 660.0,917.1 660.1,920.1 661.2,922.5 662.3,925.9 663.7,927.3 663.8,925.1 664.0,922.0 664.2,920.1 664.2,917.3 664.4,915.3 664.7,913.0 664.8,911.1 664.9,908.4 665.1,906.6 665.0,904.7 665.0,901.8 665.1,899.7 665.3,898.1 665.5,895.2 665.4,893.0 666.1,925.9 666.6,929.1 667.5,931.9 668.0,934.4 668.7,936.6 669.2,939.5 670.1,941.6 671.5,944.8 673.0,947.3 674.6,948.9 675.9,950.9 677.3,951.6 677.2,948.8 677.4,946.8 677.6,944.9 677.8,942.3 678.2,939.8 678.3,937.3 678.3,934.4 679.3,891.5 680.7,848.6 681.7,791.6 682.6,920.1 683.6,862.9 685.8,755.1 686.5,877.2 687.2,968.8 688.2,862.9 689.3,790.9 690.3,891.5 691.2,968.8 692.0,862.9 692.9,820.0 694.3,820.0 694.6,822.8 694.7,824.6 694.3,826.2 694.6,829.3 694.3,831.2 694.8,832.8 694.9,834.9 694.9,838.2 694.9,839.3 694.6,842.6 694.7,844.1 694.8,847.0 695.1,848.6 695.3,851.3 695.5,853.4 695.2,855.7 695.4,857.8 695.5,860.3 695.7,861.5 695.9,863.9 695.9,866.1 696.3,868.5 696.3,870.5 696.2,873.1 696.4,874.6 696.5,877.2 696.5,879.4 696.7,881.6 696.8,883.7 697.0,886.6 697.2,888.8 697.0,890.4 697.3,892.9 697.1,894.2 697.3,897.7 697.8,898.5 697.8,902.1 697.7,904.0 697.9,905.8 698.2,907.9 698.3,909.7 698.6,912.7 699.1,914.9 699.4,917.7 699.4,919.0 699.4,921.2 699.7,923.0 700.1,925.9 701.5,930.9 702.9,920.1 703.6,897.3 704.6,877.2 705.5,848.6 707.2,737.2 708.4,891.5 709.4,967.4 710.1,891.5 710.8,834.3 713.2,762.3 714.4,828.6 715.8,848.6 717.2,825.7 719.1,740.1 720.8,834.3 722.9,695.0 724.1,862.9 724.7,945.9 725.8,945.9 726.7,820.0 728.0,812.8 728.7,831.4 730.1,834.3 731.5,848.6 733.0,870.1 734.4,848.6 735.1,830.0 736.1,848.6 737.3,862.9 738.4,880.1 739.4,898.7 740.8,917.3 742.3,927.3 743.7,930.9 745.8,930.2 747.6,927.3 749.0,917.3 750.4,914.4 751.6,900.1 753.0,880.1 754.4,862.9 755.6,851.5 756.1,867.2 756.6,719.4 757.9,877.2 758.8,795.0 759.5,835.0 760.8,738.8 761.8,825.0 763.0,875.0 765.0,912.5 767.0,930.0 768.8,935.0 770.0,917.5 770.8,925.0 771.5,857.5 772.2,930.0 773.8,927.5 776.2,940.0 780.0,952.5 785.0,962.5 790.0,967.0 797.5,969.5 805.0,971.0 936.0,971.2" fill="none" stroke="#000000" stroke-width="2.7" stroke-linejoin="round" stroke-linecap="butt"/>
</g>
<text x="124.0" y="1015.3" font-family='"Liberation Serif", "DejaVu Serif", serif' font-size="34" font-weight="normal" text-anchor="middle" stroke="#000" stroke-width="0.4">172</text>
<text x="240.1" y="1015.3" font-family='"Liberation Serif", "DejaVu Serif", serif' font-size="34" font-weight="normal" text-anchor="middle" stroke="#000" stroke-width="0.4">174</text>
<text x="356.1" y="1015.3" font-family='"Liberation Serif", "DejaVu Serif", serif' font-size="34" font-weight="normal" text-anchor="middle" stroke="#000" stroke-width="0.4">176</text>
<text x="472.2" y="1015.3" font-family='"Liberation Serif", "DejaVu Serif", serif' font-size="34" font-weight="normal" text-anchor="middle" stroke="#000" stroke-width="0.4">178</text>
<text x="588.2" y="1015.3" font-family='"Liberation Serif", "DejaVu Serif", serif' font-size="34" font-weight="normal" text-anchor="middle" stroke="#000" stroke-width="0.4">180</text>
<text x="704.3" y="1015.3" font-family='"Liberation Serif", "DejaVu Serif", serif' font-size="34" font-weight="normal" text-anchor="middle" stroke="#000" stroke-width="0.4">182</text>
<text x="820.3" y="1015.3" font-family='"Liberation Serif", "DejaVu Serif", serif' font-size="34" font-weight="normal" text-anchor="middle" stroke="#000" stroke-width="0.4">184</text>
<text x="936.4" y="1015.3" font-family='"Liberation Serif", "DejaVu Serif", serif' font-size="34" font-weight="normal" text-anchor="middle" stroke="#000" stroke-width="0.4">186</text>
<text x="108.8" y="982.2" font-family='"Liberation Serif", "DejaVu Serif", serif' font-size="34" font-weight="normal" text-anchor="end" stroke="#000" stroke-width="0.4">0</text>
<text x="108.8" y="889.2" font-family='"Liberation Serif", "DejaVu Serif", serif' font-size="34" font-weight="normal" text-anchor="end" stroke="#000" stroke-width="0.4">50</text>
<text x="108.8" y="796.2" font-family='"Liberation Serif", "DejaVu Serif", serif' font-size="34" font-weight="normal" text-anchor="end" stroke="#000" stroke-width="0.4">100</text>
<text x="108.8" y="703.2" font-family='"Liberation Serif", "DejaVu Serif", serif' font-size="34" font-weight="normal" text-anchor="end" stroke="#000" stroke-width="0.4">150</text>
<text x="108.8" y="610.2" font-family='"Liberation Serif", "DejaVu Serif", serif' font-size="34" font-weight="normal" text-anchor="end" stroke="#000" stroke-width="0.4">200</text>
<text x="419.6" y="1059.4" font-family='"Liberation Serif", "DejaVu Serif", serif' font-size="38.5" font-weight="normal" text-anchor="start" textLength="201.5" lengthAdjust="spacingAndGlyphs" stroke="#000" stroke-width="0.4">Time (hours)</text>
<text x="498.6" y="1110.8" font-family='"Liberation Serif", "DejaVu Serif", serif' font-size="35" font-weight="bold" text-anchor="start" textLength="46.0" lengthAdjust="spacingAndGlyphs" stroke="#000" stroke-width="0.4">(b)</text>
<g transform="translate(24.3,854.2) rotate(-90)"><text font-family='"Liberation Serif", "DejaVu Serif", serif' stroke="#000" stroke-width="0.4"><tspan x="0.0" y="0.0" font-size="35" textLength="40.0" lengthAdjust="spacingAndGlyphs">DP</tspan><tspan x="40.8" y="0.0" font-size="28.5" textLength="29.5" lengthAdjust="spacingAndGlyphs">pv</tspan><tspan x="70.6" y="0.0" font-size="35" textLength="57.6" lengthAdjust="spacingAndGlyphs">(W)</tspan></text></g>
<rect x="124.0" y="599.4" width="339.4" height="162.6" fill="#fff" stroke="#000" stroke-width="1.6"/>
<line x1="134.2" y1="631.7" x2="212.8" y2="631.7" stroke="#ff0000" stroke-width="1.5"/>
<text font-family='"Liberation Serif", "DejaVu Serif", serif' stroke="#000" stroke-width="0.4"><tspan x="221.0" y="637.7" font-size="30" textLength="40.0" lengthAdjust="spacingAndGlyphs">DP</tspan><tspan x="264.0" y="652.8" font-size="23.5" textLength="25.4" lengthAdjust="spacingAndGlyphs">pv</tspan><tspan x="289.2" y="637.7" font-size="30" textLength="162.2" lengthAdjust="spacingAndGlyphs"> (P&amp;O/FLC)</tspan></text>
<line x1="134.2" y1="684.8" x2="212.8" y2="684.8" stroke="#0000ff" stroke-width="1.5"/>
<text font-family='"Liberation Serif", "DejaVu Serif", serif' stroke="#000" stroke-width="0.4"><tspan x="221.0" y="690.1" font-size="30" textLength="40.0" lengthAdjust="spacingAndGlyphs">DP</tspan><tspan x="264.0" y="706.5" font-size="23.5" textLength="25.4" lengthAdjust="spacingAndGlyphs">pv</tspan><tspan x="289.1" y="690.1" font-size="30" textLength="149.8" lengthAdjust="spacingAndGlyphs">(Hpv/P&amp;O)</tspan></text>
<line x1="134.2" y1="732.3" x2="212.8" y2="732.3" stroke="#000000" stroke-width="1.5"/>
<text font-family='"Liberation Serif", "DejaVu Serif", serif' stroke="#000" stroke-width="0.4"><tspan x="218.6" y="736.8" font-size="33" textLength="43.8" lengthAdjust="spacingAndGlyphs">DP</tspan><tspan x="264.0" y="753.6" font-size="26.5" textLength="29.5" lengthAdjust="spacingAndGlyphs">pv</tspan><tspan x="295.3" y="736.8" font-size="31.5" textLength="153.8" lengthAdjust="spacingAndGlyphs">(Hpv/FLC)</tspan></text>
<rect x="662.8" y="571.0" width="151.1" height="98.8" fill="#fdfdee" stroke="#c9c9c9" stroke-width="1.5"/>
<text y="607.3" font-family='"Liberation Sans", "DejaVu Sans", sans-serif' font-size="33"><tspan x="673.0">X:</tspan><tspan x="707.2"> 181</tspan></text>
<text y="651.5" font-family='"Liberation Sans", "DejaVu Sans", sans-serif' font-size="33"><tspan x="673.0">Y:</tspan><tspan x="707.2"> 153.3</tspan></text>
<rect x="630.9" y="672.9" width="29.0" height="27.1" fill="#f8f8d2"/><rect x="634.2" y="676.1" width="22.4" height="20.5" fill="#000"/>
</svg>
</body></html>
